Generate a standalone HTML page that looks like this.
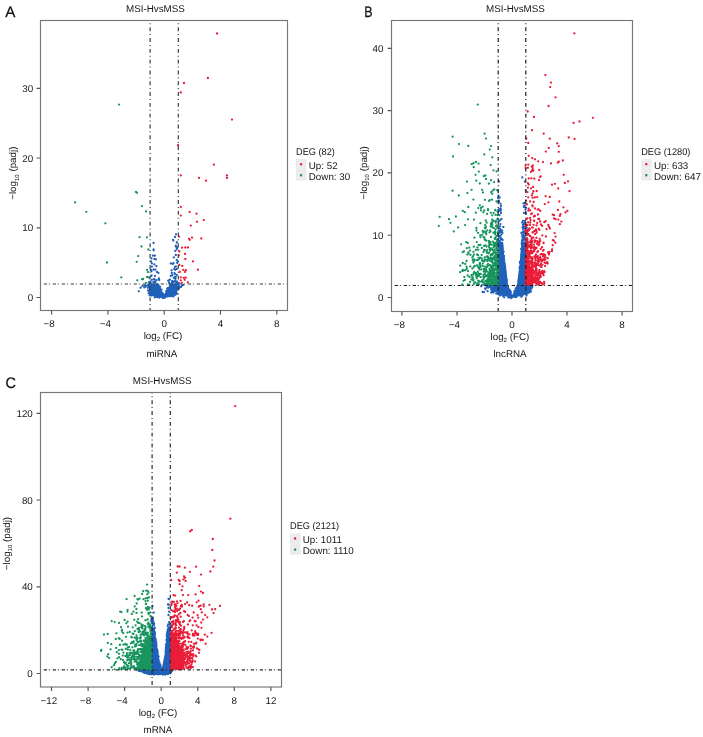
<!DOCTYPE html><html><head><meta charset="utf-8"><style>html,body{margin:0;padding:0;background:#fff;overflow:hidden}svg{display:block;will-change:transform}</style></head><body>
<svg width="703" height="737" viewBox="0 0 703 737" font-family="&quot;Liberation Sans&quot;, sans-serif" text-rendering="geometricPrecision">
<rect width="703" height="737" fill="#fff"/>
<path d="M149.0,284.0 149.0,292.0 151.0,295.2 155.0,297.0 164.0,297.4 172.0,297.0 176.0,294.8 177.8,290.0 178.2,284.0 170.0,283.5 167.5,289.0 164.2,294.8 160.9,289.0 157.5,283.5Z" fill="#2061bb"/>
<path d="M151.6 295.6h0M172.1 285.5h0M168.4 294.6h0M150.3 281.7h0M174.4 288.6h0M172.1 281.2h0M161.7 293.5h0M154.7 297.3h0M176.6 281.7h0M148.0 290.4h0M177.8 287.7h0M154.3 288.4h0M148.1 285.0h0M161.5 289.6h0M154.8 285.1h0M154.3 289.0h0M174.5 290.7h0M151.1 286.9h0M170.7 293.3h0M177.7 288.4h0M174.3 292.6h0M157.1 291.2h0M148.3 285.3h0M173.2 288.2h0M152.8 290.5h0M170.1 292.7h0M159.4 288.7h0M163.8 294.4h0M148.6 293.2h0M163.6 297.9h0M172.3 290.4h0M175.2 285.1h0M163.9 297.4h0M156.0 290.5h0M172.7 295.1h0M176.1 293.8h0M173.6 290.0h0M158.8 287.1h0M167.2 289.0h0M148.1 285.1h0M153.0 291.1h0M175.3 294.8h0M173.2 295.1h0M155.5 295.5h0M169.1 282.6h0M171.8 285.4h0M150.8 291.8h0M152.4 290.2h0M152.7 285.8h0M170.4 288.9h0M157.7 289.3h0M148.0 287.8h0M166.9 295.1h0M152.0 293.4h0M152.4 293.2h0M169.3 290.5h0M173.2 290.0h0M154.5 292.2h0M160.1 291.0h0M157.7 291.9h0M149.1 286.3h0M157.2 295.8h0M157.3 297.2h0M171.4 288.3h0M175.8 281.8h0M170.2 289.9h0M159.5 287.1h0M153.9 292.7h0M150.6 292.5h0M156.9 289.7h0M157.8 296.0h0M176.5 281.5h0M153.7 286.8h0M158.3 284.8h0M169.2 295.4h0M177.6 287.0h0M176.0 292.9h0M163.0 298.0h0M154.8 293.5h0M150.0 284.1h0M176.9 284.8h0M171.9 291.4h0M174.6 287.5h0M158.3 286.2h0M175.5 291.5h0M151.6 290.6h0M150.6 281.9h0M172.9 295.3h0M158.3 291.7h0M172.7 287.6h0M149.9 285.7h0M176.2 290.8h0M177.4 289.0h0M156.2 294.6h0M174.2 281.4h0M169.1 282.8h0M148.5 285.3h0M151.0 284.0h0M155.1 293.8h0M159.5 297.7h0M176.8 286.2h0M155.5 289.3h0M150.5 292.3h0M179.2 286.2h0M178.8 283.1h0M154.2 291.7h0M169.6 292.5h0M155.6 290.4h0M157.2 285.4h0M149.9 286.0h0M168.5 292.1h0M177.9 287.8h0M157.2 286.8h0M157.5 295.6h0M176.3 286.3h0M158.1 290.5h0M166.1 291.3h0M155.1 282.4h0M149.6 292.0h0M156.7 294.7h0M163.3 295.9h0M152.2 289.7h0M173.1 282.5h0M178.1 284.1h0M174.0 286.6h0M150.7 289.9h0M177.2 286.2h0M176.3 283.6h0M176.9 281.7h0M157.5 296.6h0M173.4 296.6h0M174.6 293.9h0M169.7 284.2h0M170.5 292.6h0M155.4 282.3h0M175.0 288.9h0M160.1 287.0h0M168.3 288.3h0M151.3 285.6h0M174.2 288.0h0M160.3 291.6h0M168.4 288.7h0M169.6 293.6h0M155.0 289.6h0M160.6 290.7h0M156.2 292.2h0M148.8 282.4h0M163.9 296.1h0M152.4 294.2h0M176.0 286.5h0M169.8 295.6h0M159.3 293.1h0M171.2 291.3h0M152.9 285.5h0M154.3 290.9h0M171.9 282.1h0M169.4 293.4h0M158.5 290.0h0M152.6 293.6h0M173.5 291.9h0M155.9 296.7h0M178.5 283.6h0M172.5 295.5h0M168.7 293.1h0M161.7 296.9h0M178.9 287.7h0M173.4 288.6h0M152.6 286.7h0M178.5 283.2h0M151.0 286.2h0M155.3 293.9h0M167.7 291.5h0M174.4 284.7h0M156.5 290.4h0M156.1 291.2h0M155.4 292.8h0M173.0 294.9h0M163.2 295.7h0M172.3 290.9h0M150.7 294.9h0M151.0 293.9h0M165.0 297.6h0M151.7 289.7h0M157.1 288.0h0M172.7 292.8h0M166.7 296.2h0M174.2 289.9h0M174.4 288.2h0M157.2 284.1h0M167.4 290.2h0M159.9 288.4h0M160.4 295.8h0M166.3 293.7h0M176.5 293.9h0M163.3 293.9h0M168.1 292.2h0M167.7 288.1h0M167.7 292.0h0M174.8 294.2h0M173.8 291.5h0M158.6 285.7h0M170.3 296.1h0M174.4 289.4h0M163.7 297.3h0M169.7 288.0h0M169.7 291.5h0M154.0 284.7h0M176.1 285.8h0M149.6 295.3h0M152.7 292.3h0M170.5 295.1h0M156.0 291.6h0M154.8 290.7h0M152.8 294.6h0M175.5 286.8h0M170.2 295.5h0M161.3 294.1h0M172.8 284.4h0M178.9 288.7h0M177.0 293.6h0M151.7 293.4h0M159.0 294.0h0M155.0 293.4h0M170.6 286.4h0M150.7 287.9h0M153.3 282.1h0M166.7 296.3h0M154.3 281.8h0M170.1 295.1h0M158.4 295.4h0M176.0 234.3h0M175.0 237.0h0M173.0 239.8h0M153.6 243.0h0M177.0 242.3h0M175.8 245.7h0M177.3 247.5h0M153.6 249.5h0M153.6 250.3h0M152.9 255.7h0M154.9 255.7h0M151.4 258.4h0M154.4 258.9h0M155.9 259.4h0M150.9 261.4h0M151.9 263.4h0M154.4 264.4h0M153.7 269.7h0M156.9 271.9h0M158.4 272.9h0M154.9 275.9h0M158.9 278.3h0M151.9 279.8h0M153.9 278.8h0M173.3 240.5h0M176.8 242.5h0M175.8 246.5h0M176.8 249.0h0M175.3 251.0h0M175.8 255.0h0M173.8 257.4h0M176.8 259.9h0M177.8 261.4h0M170.8 263.4h0M172.8 263.9h0M175.8 266.4h0M176.8 268.9h0M171.8 272.9h0M174.8 273.9h0M176.8 274.9h0M170.8 275.9h0M173.8 277.8h0M169.8 279.8h0M174.8 280.8h0M140.7 287.7h0M142.8 285.6h0M144.3 287.4h0M145.7 286.6h0M147.1 285.6h0M138.8 291.3h0M140.5 287.8h0M142.5 285.8h0M145.0 285.3h0M183.4 284.9h0M181.0 287.0h0M182.0 285.5h0M151.3 275.9h0M151.0 270.0h0M155.4 269.6h0M151.9 266.6h0M156.4 266.2h0M156.5 280.2h0M158.8 279.2h0M153.5 269.7h0M156.4 280.4h0M154.4 279.6h0M151.6 275.3h0M150.6 269.6h0M151.4 271.3h0M159.2 280.1h0M177.2 262.9h0M174.8 276.9h0M175.4 278.9h0M175.1 269.8h0M174.8 281.4h0M174.9 266.9h0M168.2 280.7h0M174.3 269.0h0M174.5 273.2h0M173.5 263.2h0M171.6 270.3h0M169.8 279.6h0M172.4 275.2h0M175.7 276.9h0" stroke="#2061bb" stroke-width="2.3" stroke-linecap="round" fill="none"/>
<path d="M119.0 104.6h0M136.0 192.0h0M137.0 192.8h0M75.1 202.4h0M86.3 211.8h0M105.4 223.3h0M139.6 237.2h0M138.2 256.1h0M136.7 261.8h0M107.0 262.5h0M121.3 277.3h0M137.3 280.3h0M142.0 206.1h0M146.1 211.4h0M146.9 237.3h0M141.5 246.5h0M148.4 249.5h0M147.1 269.9h0M147.9 272.1h0M147.1 277.0h0M148.7 277.4h0M142.0 279.3h0M143.1 279.0h0M145.9 282.8h0" stroke="#18955f" stroke-width="2.3" stroke-linecap="round" fill="none"/>
<path d="M217.1 33.5h0M207.9 78.0h0M184.0 83.0h0M180.8 92.5h0M232.0 119.6h0M178.0 145.2h0M213.9 164.7h0M180.8 175.4h0M199.0 177.9h0M206.0 180.7h0M227.0 175.4h0M227.0 177.9h0M180.8 206.9h0M189.6 211.9h0M196.5 213.7h0M180.8 215.6h0M197.0 221.8h0M190.8 225.6h0M179.0 236.6h0M189.0 238.8h0M189.8 239.8h0M192.0 237.6h0M182.0 247.7h0M185.3 247.5h0M188.0 247.5h0M179.3 251.5h0M185.1 254.0h0M178.8 255.4h0M185.3 258.9h0M192.9 261.4h0M179.3 264.9h0M182.3 265.9h0M197.9 269.7h0M179.8 271.9h0M183.3 269.9h0M185.1 271.9h0M185.8 270.2h0M180.8 277.3h0M183.8 277.8h0M185.8 277.6h0M180.8 280.3h0M184.6 279.8h0M187.8 282.3h0M181.8 282.8h0M203.8 220.1h0M201.3 238.5h0" stroke="#e91d38" stroke-width="2.3" stroke-linecap="round" fill="none"/>
<path d="M150.1 20.5V310.5M178.3 20.5V310.5" stroke="#3c3c3c" stroke-width="1.2" stroke-dasharray="3.9 2.9 1 3" stroke-dashoffset="4" fill="none"/>
<path d="M40.5 284.0H287.5" stroke="#3c3c3c" stroke-width="1.2" stroke-dasharray="3.3 1.85 1 2.85" stroke-dashoffset="5.8" fill="none"/>
<rect x="40.5" y="20.5" width="247.0" height="290.0" fill="none" stroke="#767676" stroke-width="1.15"/>
<path d="M51.6 310.5v3.9M107.9 310.5v3.9M164.2 310.5v3.9M220.5 310.5v3.9M276.8 310.5v3.9M40.5 297.5h-3.9M40.5 227.8h-3.9M40.5 158.0h-3.9M40.5 88.3h-3.9" stroke="#555" stroke-width="1.15" fill="none"/>
<g font-size="9.8" fill="#161616">
<text x="49.0" y="326.8" text-anchor="middle">−8</text>
<text x="105.3" y="326.8" text-anchor="middle">−4</text>
<text x="164.2" y="326.8" text-anchor="middle">0</text>
<text x="220.5" y="326.8" text-anchor="middle">4</text>
<text x="276.8" y="326.8" text-anchor="middle">8</text>
<text x="33.2" y="301.0" text-anchor="end">0</text>
<text x="33.2" y="231.3" text-anchor="end">10</text>
<text x="33.2" y="161.5" text-anchor="end">20</text>
<text x="33.2" y="91.8" text-anchor="end">30</text>
<text x="155.4" y="12" text-anchor="middle">MSI-HvsMSS</text>
<text x="163" y="338.6" text-anchor="middle">log<tspan font-size="6" dy="2.2">2</tspan><tspan dy="-2.2"> (FC)</tspan></text>
<text x="161.9" y="356.8" text-anchor="middle">miRNA</text>
<text transform="translate(16.3 173.2) rotate(-90)" text-anchor="middle">−log<tspan font-size="6" dy="2.2">10</tspan><tspan dy="-2.2"> (padj)</tspan></text>
</g>
<text transform="matrix(1 0 0 1 5.3 16.6)" font-size="15.2" fill="#111" stroke="#111" stroke-width="0.25">A</text>
<g font-size="9.8" fill="#161616"><text transform="matrix(0.94 0 0 1 296 154.6)">DEG (82)</text>
<rect x="296" y="159.1" width="10.5" height="21.4" fill="#ececec"/>
<rect x="299.95" y="163.0" width="2.3" height="2.3" rx="0.9" fill="#e8173c"/><rect x="299.95" y="174.1" width="2.3" height="2.3" rx="0.9" fill="#178f5e"/>
<text x="308.8" y="168.6">Up: 52</text><text x="308.8" y="179.6">Down: 30</text></g>
<path d="M488.0,285.0 492.0,290.0 498.0,293.5 505.0,296.0 512.0,297.3 519.0,296.6 526.0,294.3 530.0,290.5 532.0,286.0 526.3,285.0 526.3,242.0 521.3,242.0 520.2,257.0 519.0,268.4 517.0,284.7 512.2,295.0 508.0,284.7 506.3,268.4 504.3,257.0 503.2,242.0 498.5,242.0 498.5,285.0Z" fill="#2061bb"/>
<path d="M525.6 279.2h0M502.4 290.5h0M499.6 235.9h0M520.5 291.5h0M521.9 283.1h0M521.5 277.7h0M508.0 292.9h0M501.1 289.8h0M498.9 241.0h0M509.1 293.5h0M524.8 278.5h0M494.6 289.3h0M526.6 243.7h0M493.7 289.7h0M504.6 277.8h0M524.5 237.4h0M522.1 279.5h0M527.0 277.0h0M508.9 297.1h0M504.6 264.0h0M498.8 272.4h0M493.8 291.5h0M504.3 264.0h0M523.9 252.5h0M509.5 292.6h0M525.9 274.6h0M503.9 261.1h0M502.0 293.6h0M503.0 259.5h0M521.4 254.6h0M487.1 287.5h0M515.7 295.4h0M519.9 262.0h0M501.2 259.0h0M523.7 245.4h0M530.5 286.4h0M498.1 242.7h0M504.8 275.1h0M524.7 232.9h0M498.1 242.8h0M519.2 293.7h0M521.0 273.6h0M521.8 287.6h0M503.5 274.2h0M519.3 289.9h0M520.2 269.8h0M529.2 290.0h0M488.1 285.0h0M522.1 240.4h0M521.0 268.4h0M492.8 284.1h0M507.8 286.5h0M500.1 245.3h0M523.0 255.2h0M505.6 288.9h0M498.7 272.9h0M525.0 248.0h0M525.9 232.7h0M523.7 271.5h0M498.7 242.8h0M488.7 285.2h0M502.3 252.4h0M499.2 231.6h0M528.6 292.6h0M505.5 272.2h0M502.1 251.7h0M523.5 242.9h0M524.2 271.8h0M503.4 285.5h0M500.5 289.5h0M518.2 294.6h0M520.9 280.3h0M527.3 293.6h0M521.4 296.8h0M507.3 290.6h0M500.9 252.0h0M529.8 289.9h0M521.8 257.6h0M525.5 254.2h0M502.0 281.5h0M526.4 257.1h0M522.7 235.6h0M500.2 281.5h0M499.2 286.6h0M510.5 297.2h0M517.7 292.2h0M523.7 226.6h0M493.2 292.4h0M524.9 263.8h0M517.8 289.3h0M502.3 271.0h0M526.8 291.4h0M488.4 285.1h0M502.2 247.5h0M503.3 283.7h0M524.4 266.7h0M525.0 286.4h0M493.7 285.6h0M504.0 256.0h0M500.0 264.9h0M503.0 264.0h0M522.4 276.1h0M523.1 258.4h0M526.9 242.1h0M498.7 241.0h0M525.7 247.6h0M499.3 244.5h0M525.5 227.3h0M502.2 230.7h0M523.8 292.2h0M503.0 257.5h0M522.9 268.0h0M518.9 279.1h0M516.0 294.2h0M498.8 273.8h0M507.1 294.3h0M501.1 250.6h0M501.5 294.5h0M500.4 286.6h0M527.0 231.5h0M523.3 237.8h0M532.3 285.8h0M503.6 292.1h0M505.3 294.8h0M523.8 272.8h0M531.6 285.4h0M498.4 286.7h0M501.6 287.2h0M506.5 294.8h0M521.5 256.4h0M508.8 290.9h0M521.1 273.2h0M506.2 295.6h0M523.7 251.2h0M508.4 297.4h0M524.2 255.4h0M503.7 272.8h0M523.0 290.8h0M492.1 286.3h0M499.6 231.8h0M499.8 260.6h0M498.5 286.0h0M495.3 287.1h0M495.4 284.7h0M503.7 260.2h0M501.5 239.0h0M530.2 287.0h0M503.2 286.5h0M498.5 267.3h0M524.1 289.5h0M506.2 295.4h0M524.2 264.1h0M523.7 246.7h0M523.0 237.1h0M508.7 292.6h0M526.9 280.5h0M524.9 290.9h0M501.0 287.2h0M522.7 242.6h0M500.1 232.5h0M504.0 273.5h0M525.5 250.2h0M500.6 239.4h0M502.3 256.4h0M522.0 242.1h0M525.5 278.1h0M500.6 254.5h0M500.2 242.4h0M530.5 286.1h0M504.5 275.8h0M525.5 239.7h0M502.4 248.7h0M524.5 248.3h0M504.2 261.0h0M526.0 281.4h0M524.1 247.3h0M530.3 290.1h0M525.7 262.3h0M524.6 279.1h0M508.9 290.5h0M524.5 236.2h0M523.1 229.1h0M523.4 290.8h0M525.0 262.3h0M522.9 240.1h0M499.5 247.2h0M517.4 289.7h0M502.5 275.3h0M498.1 273.5h0M504.4 286.2h0M521.7 260.4h0M531.0 291.6h0M526.2 281.7h0M530.4 291.0h0M528.2 291.3h0M518.3 289.4h0M523.2 244.0h0M524.8 266.9h0M522.5 295.5h0M498.8 232.5h0M502.1 273.1h0M500.2 248.3h0M493.5 286.7h0M529.4 292.4h0M525.2 231.8h0M522.4 284.3h0M522.3 247.8h0M516.3 297.1h0M532.5 285.1h0M499.9 231.2h0M521.7 288.5h0M504.6 287.0h0M526.7 258.0h0M499.3 284.8h0M520.0 274.2h0M519.2 289.3h0M524.3 255.5h0M515.8 288.4h0M521.2 289.9h0M527.9 285.7h0M502.9 257.3h0M520.3 274.9h0M525.1 292.0h0M500.8 232.1h0M505.1 265.9h0M526.4 233.4h0M524.8 293.9h0M525.3 238.3h0M500.0 282.6h0M485.8 284.4h0M522.4 261.1h0M499.4 264.3h0M524.4 250.7h0M519.8 275.1h0M506.7 282.8h0M499.9 226.3h0M526.3 280.2h0M520.7 292.5h0M503.8 256.8h0M498.3 294.0h0M525.0 244.5h0M522.4 245.1h0M503.1 281.4h0M504.1 258.7h0M526.1 245.3h0M529.7 284.8h0M525.3 226.6h0M525.5 244.9h0M484.3 284.8h0M522.7 254.7h0M524.2 245.4h0M502.2 245.6h0M496.5 288.6h0M518.5 290.2h0M524.6 255.0h0M519.0 284.9h0M495.1 290.3h0M517.9 288.4h0M498.2 241.7h0M500.5 284.3h0M500.2 280.7h0M526.6 242.6h0M498.4 261.2h0M522.5 250.5h0M522.7 276.2h0M526.5 295.6h0M498.8 269.5h0M520.1 291.9h0M507.7 289.1h0M503.2 269.3h0M521.5 288.3h0M499.5 268.1h0M524.3 227.4h0M523.1 238.1h0M502.4 256.4h0M518.9 285.0h0M501.7 278.4h0M501.3 246.3h0M525.5 227.9h0M495.4 285.9h0M498.8 226.3h0M499.9 295.6h0M503.8 261.6h0M502.7 281.0h0M523.2 273.9h0M503.1 286.4h0M523.2 256.4h0M520.8 292.1h0M524.7 238.4h0M502.2 281.6h0M498.3 236.2h0M521.7 264.5h0M500.0 228.8h0M511.0 297.4h0M503.6 276.7h0M524.8 243.3h0M500.9 260.7h0M499.1 257.6h0M530.0 286.6h0M498.7 230.8h0M484.2 284.8h0M493.5 292.6h0M501.2 271.4h0M500.7 273.4h0M511.7 297.7h0M521.7 243.4h0M519.8 276.3h0M522.5 239.4h0M498.6 290.8h0M501.5 280.9h0M503.8 295.1h0M498.6 246.4h0M516.7 293.6h0M524.8 271.3h0M521.1 272.1h0M522.9 247.6h0M524.0 236.8h0M510.1 292.5h0M494.1 290.4h0M503.6 270.0h0M522.3 258.8h0M505.5 281.5h0M498.1 283.4h0M499.5 237.1h0M498.6 245.7h0M491.6 286.2h0M503.7 266.5h0M518.6 289.8h0M520.0 271.9h0M491.2 289.7h0M527.1 291.9h0M522.2 254.0h0M499.8 252.9h0M518.7 281.2h0M526.0 283.8h0M492.8 288.1h0M523.3 289.6h0M524.9 251.3h0M520.2 291.0h0M507.2 292.6h0M503.2 272.2h0M501.4 278.0h0M504.0 256.2h0M504.2 294.2h0M521.8 276.8h0M501.9 289.0h0M522.6 289.2h0M492.4 287.2h0M521.2 278.4h0M524.6 276.7h0M499.9 252.8h0M504.2 297.3h0M532.4 286.1h0M526.3 241.5h0M515.0 297.1h0M501.8 287.8h0M502.1 272.7h0M524.6 246.5h0M519.9 262.8h0M503.7 278.0h0M503.3 261.8h0M493.5 284.0h0M501.6 230.3h0M526.0 226.6h0M502.8 286.2h0M522.3 236.7h0M492.1 288.3h0M522.4 243.9h0M496.8 289.6h0M507.1 293.0h0M519.4 294.3h0M519.7 293.4h0M521.9 287.4h0M503.8 260.2h0M502.1 264.7h0M516.7 292.9h0M500.0 295.6h0M526.0 243.3h0M510.9 291.9h0M525.5 288.2h0M522.8 243.7h0M497.0 289.5h0M498.2 243.7h0M501.7 273.2h0M524.5 269.3h0M498.4 265.3h0M525.5 264.9h0M523.8 239.9h0M532.1 287.4h0M492.6 291.8h0M496.7 287.2h0M493.9 288.3h0M522.3 291.3h0M501.4 258.4h0M523.2 283.5h0M484.8 284.5h0M522.8 277.8h0M510.1 290.3h0M525.6 226.5h0M527.0 252.2h0M517.4 286.9h0M525.4 239.4h0M503.0 284.1h0M520.7 291.8h0M520.2 274.5h0M522.5 285.1h0M505.0 279.1h0M526.4 239.0h0M523.9 242.4h0M518.9 281.7h0M505.2 291.1h0M528.3 286.0h0M487.6 286.5h0M499.5 290.6h0M522.9 244.7h0M525.9 242.3h0M499.5 250.8h0M506.3 292.2h0M499.0 250.6h0M506.1 284.2h0M529.0 284.9h0M498.4 249.6h0M509.3 294.5h0M500.0 281.1h0M498.2 279.5h0M519.7 267.7h0M500.6 287.0h0M500.1 265.6h0M520.6 271.7h0M523.0 271.1h0M488.4 287.5h0M502.5 293.2h0M525.6 262.2h0M523.5 266.6h0M500.8 274.9h0M503.1 295.9h0M524.0 243.7h0M502.4 272.8h0M503.6 251.7h0M524.6 280.1h0M498.9 233.1h0M504.3 283.0h0M500.5 256.5h0M488.6 286.2h0M526.3 260.0h0M500.8 278.4h0M507.8 288.7h0M507.1 290.9h0M521.1 279.1h0M522.2 289.7h0M524.8 271.1h0M527.4 287.0h0M526.4 266.1h0M523.1 291.6h0M502.8 292.2h0M504.7 294.9h0M498.1 238.9h0M513.0 296.7h0M524.1 247.5h0M525.1 293.4h0M502.4 232.9h0M510.5 292.6h0M524.8 270.5h0M523.5 254.8h0M524.4 270.9h0M525.3 289.2h0M517.2 291.2h0M520.4 278.6h0M514.5 290.8h0M526.0 262.6h0M498.9 260.2h0M504.3 289.0h0M522.5 227.4h0M524.9 282.6h0M524.3 265.0h0M523.0 257.8h0M501.6 230.4h0M526.9 238.5h0M503.1 275.8h0M521.2 270.5h0M523.8 260.2h0M502.4 261.2h0M501.7 252.4h0M497.9 284.5h0M531.4 288.5h0M522.6 242.9h0M496.6 287.0h0M496.2 293.6h0M521.1 249.1h0M526.9 287.2h0M502.4 280.1h0M501.8 292.3h0M503.2 294.2h0M524.1 273.6h0M510.1 291.5h0M498.8 292.6h0M502.3 258.8h0M500.9 277.1h0M526.3 266.7h0M525.1 288.0h0M506.4 288.4h0M519.5 267.7h0M523.3 243.1h0M524.5 278.6h0M522.0 268.3h0M498.5 273.6h0M524.5 262.8h0M527.0 285.6h0M487.4 286.1h0M499.9 270.7h0M500.2 241.7h0M510.9 297.1h0M501.3 276.8h0M505.0 277.5h0M503.2 283.9h0M524.9 292.4h0M508.6 296.8h0M501.9 263.8h0M501.1 246.7h0M524.5 276.3h0M499.6 258.6h0M511.0 298.0h0M521.0 282.7h0M499.5 285.1h0M521.0 295.9h0M519.9 267.7h0M527.5 286.0h0M499.2 261.1h0M519.9 290.0h0M522.9 286.8h0M502.6 259.9h0M500.2 253.9h0M507.6 288.1h0M519.7 268.3h0M506.9 280.1h0M502.6 240.0h0M505.8 281.4h0M504.4 277.1h0M526.4 280.4h0M524.3 255.1h0M525.3 266.9h0M524.6 228.4h0M526.7 292.0h0M505.1 285.0h0M486.1 285.0h0M501.5 245.1h0M522.6 266.6h0M519.6 279.2h0M501.2 275.2h0M519.7 292.8h0M500.7 237.7h0M526.9 231.4h0M497.7 284.3h0M503.1 266.8h0M498.9 294.1h0M526.7 227.7h0M510.6 292.3h0M489.6 284.7h0M510.2 297.2h0M489.4 286.9h0M485.3 285.3h0M482.7 292.0h0M491.2 288.8h0M485.2 288.4h0M481.2 286.3h0M492.5 291.1h0M491.2 292.5h0M492.3 291.4h0M484.0 292.1h0M487.6 291.2h0M493.7 292.3h0M485.4 289.2h0M501.4 234.8h0M498.5 195.6h0M498.4 210.0h0M498.0 232.7h0M498.1 198.0h0M500.2 211.1h0M501.4 230.4h0M498.1 233.6h0M498.3 210.2h0M499.1 202.0h0M498.4 227.9h0M499.5 209.1h0M498.7 200.7h0M499.6 197.5h0M501.0 210.1h0M501.1 213.0h0M498.3 235.7h0M501.4 219.0h0M498.6 221.5h0M500.4 224.1h0M526.1 228.0h0M524.7 203.0h0M524.5 223.0h0M522.7 232.1h0M523.8 232.2h0M524.9 205.7h0M523.4 231.5h0M526.0 213.4h0M523.8 206.3h0M524.7 231.5h0M523.1 228.7h0M523.9 223.4h0M525.0 221.0h0M522.3 234.6h0M522.0 222.6h0M523.7 235.1h0M525.4 209.7h0M524.0 207.0h0M522.9 224.9h0M526.0 207.9h0M522.3 177.4h0M524.9 181.7h0M525.8 190.4h0M523.5 203.4h0M524.0 213.0h0M523.0 220.8h0M524.0 224.2h0M521.4 232.9h0M523.2 234.7h0M499.0 181.4h0M500.6 203.8h0M501.0 205.9h0M500.6 208.3h0M499.4 215.2h0M499.8 220.5h0M503.4 227.0h0" stroke="#2061bb" stroke-width="2.3" stroke-linecap="round" fill="none"/>
<path d="M494.1 182.1h0M490.7 165.1h0M473.7 167.2h0M492.3 193.8h0M492.7 190.6h0M478.8 171.6h0M491.2 192.2h0M494.3 189.5h0M476.3 180.7h0M482.1 189.8h0M492.0 199.7h0M497.6 190.4h0M483.8 176.2h0M496.5 171.4h0M467.4 193.1h0M491.0 180.2h0M485.3 175.5h0M493.4 170.3h0M467.0 181.6h0M475.6 174.8h0M486.1 179.0h0M482.9 192.5h0M484.9 199.8h0M473.4 199.6h0M488.9 183.7h0M471.6 189.8h0M479.8 183.5h0M497.2 190.2h0M482.7 206.7h0M497.4 219.0h0M495.4 210.0h0M490.9 212.8h0M464.8 212.2h0M468.3 207.0h0M487.1 213.9h0M474.0 219.6h0M489.7 200.1h0M498.1 219.8h0M480.9 210.4h0M495.1 210.3h0M468.0 219.3h0M481.0 208.0h0M488.1 210.2h0M478.3 208.1h0M492.3 215.3h0M492.1 219.6h0M484.2 210.4h0M493.7 213.1h0M487.9 209.1h0M497.5 211.6h0M496.5 201.5h0M475.9 212.7h0M495.5 214.8h0M462.8 210.9h0M497.6 215.2h0M483.3 212.3h0M489.1 201.0h0M479.8 205.4h0M490.4 231.4h0M483.2 232.5h0M486.7 222.7h0M495.8 222.5h0M497.4 227.9h0M495.1 234.0h0M480.4 223.2h0M495.1 238.9h0M490.9 223.9h0M476.4 228.0h0M491.9 225.3h0M484.9 227.9h0M495.5 229.3h0M483.6 236.9h0M497.6 226.9h0M480.2 235.3h0M474.5 237.7h0M484.6 239.1h0M484.3 237.4h0M495.9 226.2h0M496.5 225.5h0M492.5 227.4h0M485.3 228.3h0M489.5 232.4h0M485.0 239.9h0M498.1 233.8h0M493.7 227.9h0M495.2 231.5h0M493.7 221.0h0M497.8 227.7h0M480.5 237.2h0M494.6 238.5h0M486.3 234.3h0M476.5 230.5h0M491.0 237.0h0M495.5 232.7h0M495.9 220.9h0M486.0 226.9h0M495.6 237.3h0M498.1 232.2h0M478.1 232.9h0M492.5 220.6h0M496.5 235.6h0M491.5 222.6h0M485.9 232.0h0M497.5 240.0h0M465.1 225.1h0M482.6 230.8h0M495.6 238.9h0M484.6 231.7h0M490.7 226.4h0M482.1 234.8h0M494.6 238.5h0M485.2 225.1h0M490.1 230.4h0M492.3 224.6h0M494.9 233.9h0M485.7 220.5h0M493.5 232.7h0M485.9 233.4h0M487.3 230.3h0M492.2 222.7h0M467.7 243.1h0M477.2 254.3h0M495.2 252.1h0M497.0 244.9h0M484.0 249.9h0M493.9 251.2h0M462.7 252.2h0M494.0 243.2h0M486.8 256.5h0M497.2 255.8h0M491.6 244.7h0M497.2 254.7h0M495.4 246.3h0M481.8 247.9h0M473.4 251.8h0M487.7 252.8h0M486.8 252.7h0M494.6 249.3h0M498.4 255.5h0M469.3 247.7h0M486.6 251.1h0M476.7 242.1h0M490.6 242.2h0M489.0 240.9h0M468.6 253.4h0M493.0 241.7h0M496.9 241.1h0M489.0 252.8h0M487.4 249.8h0M489.9 243.8h0M494.6 256.1h0M494.8 252.5h0M473.8 246.7h0M490.0 250.8h0M498.1 252.5h0M464.0 251.4h0M497.9 252.7h0M491.0 254.4h0M496.5 246.0h0M492.1 249.3h0M489.5 245.1h0M486.6 246.5h0M489.1 242.3h0M491.6 248.4h0M490.2 248.3h0M492.0 255.1h0M468.3 252.4h0M493.8 247.2h0M496.4 242.6h0M493.3 253.2h0M481.7 254.9h0M493.6 245.1h0M496.1 256.9h0M496.7 248.3h0M494.5 244.4h0M478.9 245.2h0M496.1 249.8h0M484.0 245.9h0M484.7 249.9h0M490.7 255.6h0M472.9 256.3h0M494.0 245.5h0M461.1 244.3h0M475.9 250.0h0M497.1 241.1h0M474.0 254.6h0M490.0 249.6h0M467.2 254.6h0M497.2 248.4h0M487.8 256.7h0M493.0 254.1h0M480.4 244.9h0M478.2 249.8h0M489.2 247.4h0M495.0 252.9h0M491.0 254.6h0M496.5 243.8h0M485.6 245.3h0M470.1 250.6h0M494.4 256.4h0M496.8 252.9h0M497.3 250.5h0M478.7 244.9h0M496.6 255.7h0M489.3 243.5h0M488.9 245.6h0M485.9 240.4h0M488.4 253.3h0M483.5 252.0h0M486.5 240.7h0M496.5 247.1h0M478.1 255.1h0M495.7 254.9h0M477.4 247.5h0M470.4 254.9h0M494.8 245.2h0M492.6 253.6h0M497.9 250.2h0M492.5 250.1h0M493.1 253.7h0M466.2 242.1h0M466.8 248.2h0M477.4 255.1h0M495.5 243.0h0M492.6 265.7h0M480.4 266.9h0M498.1 266.5h0M497.8 260.8h0M487.5 257.3h0M495.3 268.5h0M497.0 269.8h0M491.4 266.8h0M474.6 266.0h0M484.7 257.5h0M486.0 269.8h0M492.8 265.7h0M495.6 263.4h0M493.5 266.1h0M496.4 261.7h0M483.7 269.0h0M497.7 267.8h0M478.2 259.8h0M491.9 258.4h0M497.0 264.3h0M491.0 265.7h0M492.9 267.5h0M472.7 260.1h0M492.6 265.6h0M488.3 258.9h0M496.6 269.0h0M479.4 264.5h0M498.0 264.2h0M490.4 261.2h0M474.7 259.9h0M495.1 263.0h0M478.6 257.9h0M472.4 268.5h0M493.2 269.0h0M495.4 262.2h0M491.9 262.1h0M497.2 265.8h0M495.5 260.5h0M470.3 266.4h0M478.2 267.0h0M497.6 261.9h0M490.7 258.6h0M466.9 268.7h0M488.1 259.3h0M473.3 262.5h0M498.1 266.4h0M473.9 266.8h0M492.2 261.1h0M481.3 269.3h0M489.7 270.0h0M494.5 257.9h0M498.5 269.9h0M498.4 268.9h0M487.4 265.0h0M494.0 269.8h0M495.9 263.8h0M498.3 268.2h0M496.6 269.8h0M493.4 264.7h0M483.2 260.7h0M480.1 264.1h0M497.6 267.0h0M487.3 261.1h0M495.7 264.6h0M492.1 260.5h0M493.2 263.6h0M480.3 265.6h0M493.3 257.7h0M494.8 264.5h0M488.0 265.8h0M492.0 258.9h0M489.9 265.1h0M495.8 266.1h0M482.9 263.6h0M479.0 259.1h0M497.7 264.8h0M486.7 267.2h0M497.4 261.5h0M497.9 263.7h0M488.1 257.2h0M496.4 257.4h0M496.7 259.4h0M485.0 259.7h0M460.2 265.7h0M479.8 269.6h0M486.5 267.1h0M498.2 267.3h0M465.2 263.9h0M491.1 258.0h0M495.8 264.0h0M492.2 261.3h0M484.1 269.0h0M472.3 257.6h0M492.3 262.3h0M494.1 259.3h0M473.8 259.4h0M462.7 263.3h0M479.9 263.0h0M480.2 257.7h0M482.0 260.5h0M491.5 266.6h0M492.2 269.2h0M462.9 262.8h0M482.4 261.1h0M492.9 268.6h0M477.0 260.2h0M492.0 268.2h0M497.6 264.1h0M488.1 263.8h0M466.6 261.0h0M498.2 258.4h0M485.3 259.6h0M484.9 266.6h0M488.2 259.3h0M466.5 266.7h0M485.8 269.0h0M492.7 262.5h0M489.5 268.6h0M484.5 261.4h0M488.2 260.3h0M482.7 265.9h0M489.6 258.4h0M495.6 268.1h0M495.7 260.3h0M491.8 260.4h0M479.0 268.5h0M473.9 261.7h0M476.8 265.4h0M487.4 259.9h0M498.5 267.4h0M493.5 264.8h0M484.5 269.9h0M489.6 259.1h0M494.6 259.7h0M497.2 265.9h0M481.8 258.5h0M479.9 264.2h0M495.7 269.5h0M491.0 267.1h0M495.4 261.4h0M497.5 281.0h0M497.6 280.4h0M477.8 271.7h0M490.4 274.5h0M491.2 276.0h0M492.9 277.5h0M498.1 272.7h0M489.6 271.7h0M489.0 280.7h0M471.5 275.0h0M485.9 275.7h0M489.4 284.7h0M491.5 270.7h0M480.7 277.2h0M496.8 283.9h0M482.4 284.7h0M488.6 284.7h0M492.7 273.0h0M491.4 279.7h0M492.3 278.3h0M497.5 281.2h0M473.3 279.6h0M495.0 276.5h0M490.6 280.4h0M491.0 281.9h0M498.4 282.0h0M495.4 273.3h0M490.0 284.3h0M487.1 271.4h0M488.3 281.7h0M497.6 283.7h0M473.3 274.6h0M494.8 282.5h0M474.9 282.4h0M492.2 275.6h0M475.2 282.3h0M491.4 281.2h0M493.0 283.2h0M493.3 279.9h0M488.3 277.2h0M491.5 282.4h0M494.5 276.9h0M488.6 283.6h0M480.7 274.0h0M497.9 271.5h0M477.4 274.7h0M476.1 273.2h0M498.2 271.1h0M478.1 283.2h0M483.5 275.0h0M490.6 276.0h0M497.7 278.8h0M496.1 281.8h0M498.4 273.0h0M496.3 280.2h0M490.3 276.5h0M490.6 273.6h0M491.5 284.9h0M494.3 281.2h0M496.0 282.1h0M492.3 282.5h0M479.6 281.5h0M489.8 270.1h0M484.7 273.7h0M492.8 276.5h0M496.5 278.5h0M487.4 280.1h0M476.7 278.3h0M495.0 276.7h0M483.8 282.3h0M492.6 273.2h0M476.6 277.5h0M472.2 276.9h0M492.6 283.8h0M469.4 284.9h0M496.1 276.1h0M494.2 273.2h0M474.2 271.9h0M497.3 271.4h0M494.9 275.9h0M472.8 277.6h0M495.6 284.6h0M498.1 276.8h0M483.7 271.4h0M493.7 282.9h0M485.2 271.4h0M473.6 284.3h0M492.2 279.9h0M487.7 275.0h0M489.4 275.0h0M498.5 277.4h0M485.5 271.9h0M494.5 272.3h0M479.0 284.4h0M470.1 281.9h0M491.3 272.7h0M497.0 274.5h0M488.0 283.7h0M462.4 271.1h0M496.9 274.9h0M491.3 272.8h0M494.8 277.9h0M465.6 270.1h0M481.6 281.7h0M488.3 280.5h0M490.3 270.2h0M483.9 277.8h0M464.3 276.9h0M490.6 271.5h0M494.5 277.1h0M493.6 277.3h0M491.2 279.8h0M497.6 277.3h0M491.9 270.4h0M489.5 284.6h0M471.4 279.5h0M497.0 270.4h0M487.0 282.1h0M482.2 281.5h0M484.6 283.3h0M492.3 275.1h0M488.7 273.0h0M496.9 273.2h0M468.0 271.2h0M490.2 271.1h0M497.3 279.9h0M492.6 272.1h0M492.4 272.6h0M489.6 276.6h0M494.4 281.0h0M485.6 281.0h0M492.8 276.8h0M460.1 272.2h0M490.1 279.5h0M488.4 273.9h0M497.2 282.2h0M491.9 271.3h0M482.8 281.7h0M494.1 283.7h0M495.9 279.4h0M494.6 273.1h0M491.4 279.1h0M487.1 280.1h0M496.8 279.0h0M491.9 275.0h0M494.3 271.4h0M495.5 284.5h0M493.4 275.7h0M477.0 284.0h0M488.4 284.8h0M490.4 278.0h0M485.8 270.6h0M491.0 272.7h0M476.9 277.5h0M476.4 275.9h0M495.2 279.9h0M496.7 281.7h0M497.6 284.1h0M479.0 275.7h0M497.7 283.4h0M498.0 282.3h0M486.7 276.2h0M491.5 281.6h0M463.5 280.8h0M495.7 283.2h0M484.4 274.1h0M497.1 280.8h0M462.4 284.5h0M494.2 275.2h0M496.6 282.8h0M488.8 283.5h0M476.0 274.8h0M488.8 276.7h0M489.8 278.1h0M496.3 275.8h0M486.5 284.2h0M467.7 275.5h0M489.0 279.9h0M475.6 273.2h0M490.5 272.4h0M475.9 275.1h0M486.7 284.0h0M494.1 275.2h0M491.2 283.3h0M497.2 275.5h0M484.3 271.4h0M493.1 271.4h0M495.5 278.1h0M488.8 281.0h0M486.9 283.1h0M489.8 275.3h0M492.9 277.5h0M474.3 283.2h0M489.5 280.7h0M469.5 276.9h0M462.2 284.9h0M490.6 274.7h0M473.2 280.6h0M493.7 284.1h0M484.3 276.5h0M463.9 270.4h0M464.9 279.9h0M492.6 273.5h0M487.1 275.2h0M485.0 276.7h0M488.4 279.2h0M495.4 276.7h0M497.4 284.5h0M495.8 284.4h0M484.3 270.4h0M498.0 284.4h0M486.2 276.1h0M467.9 284.5h0M498.2 281.4h0M477.3 276.2h0M478.8 273.9h0M478.8 273.7h0M495.4 279.8h0M473.8 272.9h0M483.4 279.4h0M477.6 275.4h0M478.2 280.7h0M493.1 280.7h0M493.2 283.2h0M482.3 280.5h0M483.4 277.0h0M487.4 279.1h0M489.9 281.5h0M462.6 270.0h0M477.8 104.6h0M452.6 136.7h0M484.6 133.7h0M486.0 138.6h0M458.9 144.1h0M468.3 145.9h0M491.1 146.1h0M489.8 149.6h0M453.0 156.5h0M484.3 154.4h0M492.3 157.3h0M471.7 164.2h0M473.6 163.2h0M476.0 162.0h0M478.5 163.6h0M439.7 216.8h0M438.8 226.1h0M449.0 219.2h0M450.4 222.8h0M453.8 231.4h0M455.9 216.5h0M458.1 227.4h0M452.6 190.7h0M458.8 195.5h0" stroke="#18955f" stroke-width="2.3" stroke-linecap="round" fill="none"/>
<path d="M525.6 167.9h0M536.7 191.0h0M558.2 188.5h0M532.7 193.3h0M533.1 186.9h0M531.4 178.3h0M527.9 187.6h0M545.6 196.1h0M528.7 184.5h0M527.9 167.8h0M528.7 178.5h0M531.0 188.3h0M532.1 170.5h0M525.6 165.4h0M532.8 169.1h0M537.2 197.1h0M532.4 167.3h0M549.8 197.0h0M534.9 197.4h0M532.8 165.5h0M531.7 166.6h0M531.8 195.4h0M564.8 183.0h0M552.0 184.7h0M539.2 169.9h0M533.4 170.6h0M528.2 197.3h0M532.6 197.8h0M539.0 180.2h0M540.7 176.3h0M527.5 192.1h0M527.9 183.2h0M531.0 171.9h0M554.9 183.8h0M540.0 177.1h0M563.7 174.8h0M533.4 191.2h0M534.3 178.7h0M558.3 219.6h0M526.4 219.4h0M532.7 206.4h0M527.4 218.3h0M539.2 219.0h0M534.5 215.7h0M548.5 202.3h0M530.1 201.4h0M554.0 218.3h0M526.0 200.4h0M555.5 219.2h0M563.5 207.3h0M532.4 205.4h0M560.4 214.2h0M537.8 209.7h0M535.0 216.1h0M565.5 212.4h0M544.8 204.1h0M528.3 210.6h0M552.7 214.6h0M538.7 209.4h0M531.1 214.1h0M530.1 210.4h0M540.3 210.9h0M530.1 217.9h0M526.9 204.4h0M533.9 216.6h0M528.7 208.6h0M559.3 201.5h0M535.1 208.5h0M538.3 219.0h0M554.0 215.2h0M532.0 213.3h0M538.0 214.5h0M533.7 202.0h0M542.3 235.3h0M526.4 234.2h0M554.6 233.1h0M529.8 229.0h0M530.0 235.9h0M540.1 221.5h0M532.1 227.3h0M555.6 236.6h0M532.2 237.8h0M528.1 222.4h0M526.4 238.8h0M544.3 222.2h0M527.9 229.9h0M540.9 224.3h0M528.9 230.3h0M525.8 225.1h0M535.9 229.5h0M527.2 231.8h0M535.1 234.1h0M526.8 230.9h0M536.4 230.9h0M531.7 238.4h0M533.6 224.8h0M533.5 237.6h0M527.2 238.3h0M529.9 224.9h0M536.6 225.4h0M529.3 228.5h0M536.4 237.9h0M532.7 227.7h0M539.7 239.0h0M526.1 233.1h0M536.1 230.7h0M549.9 228.5h0M532.6 232.5h0M534.0 220.7h0M546.5 229.2h0M545.9 236.5h0M527.7 233.9h0M541.4 225.1h0M536.6 232.7h0M528.6 234.1h0M530.5 220.1h0M542.2 225.8h0M530.3 222.5h0M527.4 231.4h0M526.2 224.8h0M526.9 225.1h0M531.5 237.5h0M548.9 226.6h0M526.4 238.9h0M533.1 232.0h0M539.4 229.8h0M559.9 224.2h0M534.6 231.0h0M527.4 239.8h0M527.9 235.0h0M527.4 230.1h0M527.4 225.2h0M526.2 233.9h0M548.3 225.0h0M525.6 230.1h0M537.3 222.9h0M534.3 221.1h0M525.8 232.0h0M525.6 239.7h0M525.5 226.7h0M545.6 221.2h0M538.7 228.7h0M531.6 239.9h0M537.8 242.3h0M528.1 256.6h0M525.8 247.2h0M543.3 255.0h0M530.4 247.5h0M536.9 243.8h0M531.8 247.7h0M537.6 242.3h0M534.5 249.5h0M527.4 250.7h0M526.6 256.3h0M528.1 250.8h0M549.2 253.1h0M528.4 253.9h0M529.4 255.3h0M543.1 256.4h0M531.5 244.2h0M544.0 256.2h0M525.9 250.8h0M534.9 242.1h0M541.6 253.8h0M531.9 246.1h0M535.9 256.9h0M525.9 256.8h0M534.6 246.8h0M543.5 243.2h0M530.4 253.7h0M527.9 244.1h0M534.5 256.4h0M530.8 245.0h0M549.5 251.8h0M531.3 250.9h0M535.5 248.8h0M530.0 245.2h0M526.1 243.4h0M525.5 256.7h0M539.3 244.2h0M552.7 245.2h0M540.7 248.9h0M531.5 242.7h0M536.6 247.9h0M527.5 249.0h0M527.2 245.5h0M526.2 251.9h0M526.0 242.8h0M531.2 245.1h0M527.1 256.5h0M534.3 247.8h0M526.6 246.2h0M539.4 242.2h0M528.9 251.6h0M530.5 251.0h0M542.0 247.2h0M528.5 246.4h0M535.2 248.8h0M527.7 253.4h0M540.2 241.1h0M530.7 252.2h0M530.7 240.6h0M537.4 252.0h0M552.8 240.1h0M533.8 250.4h0M534.5 240.5h0M527.0 251.8h0M552.1 249.4h0M531.0 248.6h0M555.3 242.7h0M548.0 252.6h0M529.5 245.6h0M535.8 254.6h0M548.0 252.5h0M543.9 254.5h0M542.9 250.8h0M534.0 244.6h0M543.6 242.7h0M527.7 247.2h0M545.1 255.2h0M532.1 242.7h0M530.0 242.4h0M532.2 241.3h0M527.9 241.9h0M526.1 249.5h0M534.9 249.1h0M552.0 251.2h0M530.0 256.6h0M537.5 241.1h0M530.6 242.0h0M535.5 240.9h0M527.4 251.3h0M533.4 247.6h0M538.1 251.1h0M535.3 247.9h0M529.4 254.6h0M530.0 252.5h0M530.3 246.9h0M526.8 244.9h0M537.9 256.1h0M532.9 252.0h0M529.2 254.4h0M526.0 244.2h0M534.3 251.1h0M536.1 254.6h0M543.6 249.8h0M526.8 252.6h0M540.5 254.6h0M543.8 254.1h0M538.5 245.4h0M553.8 240.7h0M528.2 254.6h0M530.8 245.2h0M535.2 256.9h0M533.1 251.7h0M532.4 247.6h0M549.0 254.6h0M531.0 246.3h0M542.9 255.1h0M532.4 253.2h0M527.9 262.2h0M531.8 257.2h0M545.3 259.6h0M529.4 262.6h0M535.8 269.5h0M526.7 261.6h0M545.5 257.4h0M532.2 261.3h0M525.7 267.7h0M535.6 267.3h0M531.4 267.9h0M538.7 261.8h0M527.9 268.8h0M532.6 258.5h0M534.4 266.6h0M526.2 265.3h0M535.1 257.7h0M532.6 269.0h0M533.3 266.6h0M526.3 269.9h0M532.2 270.0h0M529.6 262.1h0M535.7 263.0h0M544.1 260.2h0M526.0 258.8h0M525.8 266.8h0M529.7 269.6h0M528.2 268.5h0M528.8 258.1h0M529.9 262.7h0M532.9 265.9h0M528.0 260.7h0M528.3 266.8h0M544.3 258.8h0M530.2 267.8h0M525.8 266.7h0M529.6 261.0h0M528.3 269.6h0M535.0 257.7h0M525.6 265.2h0M544.5 262.6h0M534.8 266.6h0M528.4 264.6h0M528.7 266.7h0M541.8 261.4h0M532.1 260.6h0M530.3 261.4h0M530.7 269.7h0M526.5 264.2h0M537.7 261.1h0M535.4 265.2h0M532.4 264.1h0M533.3 262.6h0M536.3 268.3h0M539.8 260.5h0M528.4 267.5h0M547.7 258.2h0M527.1 265.0h0M546.6 263.0h0M542.1 259.4h0M540.1 259.1h0M537.8 258.2h0M536.5 263.9h0M536.9 264.6h0M533.3 266.4h0M541.1 266.9h0M539.4 270.0h0M528.7 263.1h0M528.0 263.7h0M525.9 260.8h0M526.3 266.6h0M542.3 260.3h0M541.5 267.2h0M535.0 263.2h0M527.1 269.9h0M536.6 268.9h0M528.7 260.5h0M532.5 266.9h0M535.9 266.5h0M531.0 258.6h0M538.6 258.0h0M539.0 258.4h0M541.1 264.5h0M540.0 258.6h0M526.4 260.7h0M530.1 269.5h0M532.7 266.7h0M526.6 264.7h0M545.1 266.0h0M527.1 268.8h0M537.8 260.9h0M540.3 257.2h0M526.2 260.0h0M525.6 261.0h0M526.2 257.0h0M540.9 263.6h0M526.6 268.5h0M531.4 266.8h0M539.9 265.7h0M528.2 263.1h0M528.4 266.7h0M526.5 267.2h0M527.0 269.6h0M545.6 262.8h0M532.1 265.4h0M527.2 263.2h0M532.6 269.4h0M527.5 259.5h0M528.7 269.8h0M538.4 261.4h0M528.9 265.4h0M531.3 263.7h0M526.5 257.6h0M528.1 258.7h0M542.4 264.8h0M530.3 262.0h0M528.2 266.8h0M528.2 270.0h0M532.4 259.4h0M526.2 267.9h0M535.6 260.0h0M529.3 267.0h0M538.3 260.8h0M537.5 265.1h0M530.1 267.6h0M547.3 262.1h0M538.1 263.1h0M538.9 265.3h0M526.2 267.5h0M526.8 266.3h0M531.2 262.8h0M535.5 262.4h0M534.7 265.0h0M527.4 269.6h0M537.8 258.8h0M529.4 265.0h0M532.5 269.7h0M535.3 259.9h0M547.7 263.5h0M537.1 257.7h0M529.5 261.4h0M532.9 265.3h0M526.2 266.2h0M528.1 278.6h0M531.2 274.2h0M526.2 275.2h0M536.6 284.5h0M525.7 280.9h0M532.6 282.9h0M532.9 278.7h0M531.0 279.3h0M530.1 281.0h0M526.9 283.5h0M526.7 278.1h0M525.6 283.9h0M533.0 276.9h0M538.5 274.8h0M528.0 273.3h0M535.2 271.8h0M529.5 278.5h0M532.1 271.1h0M538.4 284.4h0M525.8 274.9h0M541.7 283.1h0M527.7 276.1h0M529.8 271.1h0M530.9 276.8h0M525.7 270.8h0M531.8 274.1h0M527.2 280.9h0M544.3 283.7h0M536.0 280.8h0M528.5 284.5h0M535.2 281.4h0M530.8 278.2h0M529.1 280.4h0M537.0 279.6h0M530.4 277.9h0M529.8 276.2h0M531.9 280.0h0M539.9 283.3h0M531.6 284.7h0M527.0 275.5h0M529.8 281.1h0M530.4 273.8h0M544.3 271.2h0M540.3 275.2h0M527.8 282.5h0M534.5 280.4h0M536.2 279.5h0M526.8 282.8h0M538.6 275.6h0M531.7 277.5h0M535.1 282.5h0M526.0 270.5h0M534.6 272.9h0M529.7 274.0h0M542.5 284.4h0M526.3 281.2h0M544.3 272.3h0M528.3 279.3h0M527.1 270.1h0M526.4 272.8h0M531.8 275.1h0M532.4 273.9h0M534.7 271.3h0M531.6 282.5h0M533.5 278.5h0M528.2 280.3h0M527.4 281.1h0M530.9 282.9h0M544.1 282.0h0M526.8 270.3h0M532.7 275.3h0M525.6 277.0h0M531.9 278.1h0M525.7 276.2h0M535.4 275.2h0M526.8 276.1h0M528.2 283.5h0M525.7 274.3h0M526.7 277.9h0M537.5 275.3h0M527.3 277.1h0M528.3 284.7h0M529.0 283.7h0M542.8 273.2h0M537.2 278.0h0M525.8 277.1h0M526.3 271.3h0M540.8 276.9h0M526.0 278.9h0M543.7 275.3h0M539.2 278.0h0M526.7 278.3h0M526.2 284.5h0M531.2 273.6h0M527.7 276.4h0M534.8 277.9h0M530.2 279.9h0M528.5 279.1h0M536.5 272.7h0M531.4 280.9h0M534.2 272.4h0M527.7 278.2h0M528.2 282.9h0M536.1 281.1h0M536.6 282.1h0M532.9 270.0h0M533.4 272.3h0M526.8 279.2h0M528.7 281.3h0M534.4 273.4h0M526.2 276.0h0M544.6 272.1h0M526.4 270.5h0M540.1 282.0h0M531.9 278.2h0M540.7 272.2h0M534.0 272.9h0M529.9 284.8h0M532.2 275.2h0M526.1 274.1h0M530.9 283.6h0M525.8 272.5h0M529.2 272.6h0M532.6 280.9h0M528.6 270.8h0M528.0 278.3h0M536.0 277.4h0M535.3 276.7h0M537.0 279.5h0M530.9 275.1h0M535.5 270.6h0M527.5 272.7h0M528.0 275.1h0M527.2 283.6h0M528.7 273.7h0M533.3 280.2h0M538.8 273.0h0M539.1 278.8h0M531.6 274.1h0M534.0 278.4h0M534.7 277.7h0M526.2 282.5h0M535.3 272.5h0M536.2 272.1h0M529.9 279.2h0M531.5 281.1h0M531.1 273.1h0M527.7 276.5h0M527.4 271.8h0M530.4 280.2h0M531.0 270.1h0M528.3 279.5h0M533.2 274.1h0M531.2 280.6h0M536.7 270.9h0M530.9 280.5h0M526.6 283.7h0M537.3 273.9h0M527.6 270.1h0M540.3 276.2h0M531.3 271.0h0M537.0 275.0h0M536.9 284.5h0M532.6 279.7h0M527.8 282.1h0M528.8 274.9h0M542.1 272.5h0M536.6 283.7h0M526.7 275.5h0M534.1 279.2h0M534.5 273.3h0M533.8 282.0h0M527.8 277.1h0M530.7 274.8h0M533.8 279.0h0M528.2 280.7h0M527.3 274.3h0M528.4 282.2h0M531.3 280.7h0M528.8 284.6h0M526.2 280.2h0M526.8 275.6h0M538.4 280.4h0M530.0 275.2h0M539.3 282.4h0M526.3 282.0h0M527.0 278.4h0M538.8 282.8h0M526.8 272.0h0M526.8 283.9h0M543.0 274.3h0M534.0 281.7h0M528.0 281.9h0M525.9 274.9h0M531.1 280.4h0M537.9 275.8h0M536.0 281.8h0M530.8 281.5h0M526.7 283.8h0M528.0 274.8h0M542.3 271.0h0M533.3 273.7h0M526.7 278.7h0M531.2 272.3h0M538.8 282.6h0M525.9 271.8h0M531.3 274.6h0M534.9 272.4h0M529.2 270.5h0M525.9 280.4h0M529.0 283.3h0M540.9 273.5h0M525.9 281.5h0M529.1 275.7h0M530.2 284.8h0M532.4 276.3h0M531.0 272.3h0M539.1 271.1h0M537.9 273.3h0M538.4 282.3h0M526.1 276.3h0M574.4 33.4h0M545.4 75.1h0M551.0 82.6h0M550.2 87.1h0M555.5 97.3h0M548.6 106.0h0M527.7 111.5h0M534.0 117.0h0M592.9 117.8h0M573.6 122.9h0M579.5 121.5h0M532.0 130.2h0M543.7 133.7h0M526.3 138.7h0M549.8 138.7h0M568.7 137.5h0M574.6 138.9h0M528.3 143.0h0M557.2 143.4h0M558.8 146.1h0M548.8 147.9h0M545.8 151.6h0M558.8 151.8h0M528.7 155.8h0M532.3 158.1h0M535.0 159.3h0M538.2 161.3h0M542.9 162.1h0M551.0 163.4h0M557.8 162.5h0M558.8 161.7h0M562.8 160.5h0M528.3 164.6h0M568.0 181.4h0M569.5 191.2h0M567.4 210.9h0M561.3 221.6h0M559.8 215.9h0M557.9 210.0h0" stroke="#e91d38" stroke-width="2.3" stroke-linecap="round" fill="none"/>
<path d="M498.2 20.5V311.5M525.8 20.5V311.5" stroke="#1c1c1c" stroke-width="1.2" stroke-dasharray="3.9 2.9 1 3" stroke-dashoffset="4" fill="none"/>
<path d="M391.5 285.5H632.5" stroke="#1c1c1c" stroke-width="1.2" stroke-dasharray="3.3 1.85 1 2.85" stroke-dashoffset="5.8" fill="none"/>
<rect x="391.5" y="20.5" width="241.0" height="291.0" fill="none" stroke="#767676" stroke-width="1.15"/>
<path d="M401.9 311.5v3.9M457.0 311.5v3.9M512.0 311.5v3.9M567.0 311.5v3.9M622.1 311.5v3.9M391.5 297.5h-3.9M391.5 235.2h-3.9M391.5 172.9h-3.9M391.5 110.6h-3.9M391.5 48.3h-3.9" stroke="#555" stroke-width="1.15" fill="none"/>
<g font-size="9.8" fill="#161616">
<text x="399.3" y="327.8" text-anchor="middle">−8</text>
<text x="454.4" y="327.8" text-anchor="middle">−4</text>
<text x="512.0" y="327.8" text-anchor="middle">0</text>
<text x="567.0" y="327.8" text-anchor="middle">4</text>
<text x="622.1" y="327.8" text-anchor="middle">8</text>
<text x="383.4" y="301.0" text-anchor="end">0</text>
<text x="383.4" y="238.7" text-anchor="end">10</text>
<text x="383.4" y="176.4" text-anchor="end">20</text>
<text x="383.4" y="114.1" text-anchor="end">30</text>
<text x="383.4" y="51.8" text-anchor="end">40</text>
<text x="515.4" y="12" text-anchor="middle">MSI-HvsMSS</text>
<text x="509.9" y="339.9" text-anchor="middle">log<tspan font-size="6" dy="2.2">2</tspan><tspan dy="-2.2"> (FC)</tspan></text>
<text x="510" y="356.6" text-anchor="middle">lncRNA</text>
<text transform="translate(367.2 172.9) rotate(-90)" text-anchor="middle">−log<tspan font-size="6" dy="2.2">10</tspan><tspan dy="-2.2"> (padj)</tspan></text>
</g>
<text transform="matrix(0.82 0 0 1 364.3 16.6)" font-size="15.2" fill="#111" stroke="#111" stroke-width="0.25">B</text>
<g font-size="9.8" fill="#161616"><text transform="matrix(0.94 0 0 1 641.2 154.6)">DEG (1280)</text>
<rect x="641.2" y="159.1" width="10.5" height="21.4" fill="#ececec"/>
<rect x="645.1500000000001" y="163.0" width="2.3" height="2.3" rx="0.9" fill="#e8173c"/><rect x="645.1500000000001" y="174.1" width="2.3" height="2.3" rx="0.9" fill="#178f5e"/>
<text x="654.0" y="168.6">Up: 633</text><text x="654.0" y="179.6">Down: 647</text></g>
<path d="M136.5,669.8 140.0,672.0 148.4,674.6 158.0,675.2 167.8,674.6 171.5,673.0 174.0,669.8 170.4,669.6 170.4,628.0 167.4,628.0 164.9,652.7 161.5,670.0 158.1,652.7 154.6,628.0 151.7,628.0 151.7,669.6Z" fill="#2061bb"/>
<path d="M168.6 645.2h0M160.8 667.5h0M156.4 660.3h0M165.6 651.7h0M169.8 644.9h0M164.0 668.1h0M163.9 670.5h0M151.4 663.7h0M153.3 671.3h0M170.3 623.6h0M155.8 640.0h0M158.8 669.5h0M162.6 670.9h0M169.6 673.0h0M168.4 650.7h0M152.0 626.6h0M148.2 672.6h0M171.0 639.5h0M154.0 647.6h0M157.8 653.3h0M152.8 659.1h0M152.2 651.1h0M162.4 672.9h0M158.2 659.9h0M167.3 631.6h0M168.5 643.0h0M169.4 627.6h0M170.5 643.7h0M167.5 665.8h0M167.5 654.6h0M167.4 637.7h0M167.0 633.5h0M152.4 641.3h0M152.9 672.2h0M165.1 665.7h0M172.0 669.1h0M152.1 671.5h0M154.6 662.6h0M156.9 664.6h0M160.5 667.2h0M152.5 645.0h0M166.5 639.7h0M167.2 653.5h0M152.8 639.2h0M155.3 658.1h0M152.4 657.6h0M154.0 632.0h0M156.9 657.6h0M152.6 668.1h0M166.9 656.1h0M170.3 628.2h0M165.9 647.1h0M165.2 671.3h0M158.0 665.2h0M154.9 654.6h0M171.0 626.5h0M153.3 659.0h0M163.0 672.3h0M152.1 666.7h0M154.7 639.8h0M154.7 652.1h0M154.3 665.6h0M168.0 649.8h0M154.8 659.1h0M169.4 640.8h0M164.6 672.7h0M154.2 631.1h0M162.3 672.6h0M169.3 631.8h0M169.5 669.3h0M158.6 656.5h0M153.0 645.7h0M166.1 661.2h0M155.3 638.1h0M143.0 668.7h0M157.1 662.0h0M166.4 659.5h0M152.2 660.4h0M167.8 660.7h0M151.5 629.0h0M156.6 650.4h0M167.3 668.8h0M157.6 651.2h0M160.7 673.7h0M169.5 645.6h0M156.4 644.3h0M158.1 672.7h0M170.8 625.7h0M166.9 653.5h0M157.0 671.0h0M169.5 652.3h0M167.5 671.1h0M169.6 642.9h0M152.5 655.0h0M143.0 669.3h0M153.9 629.1h0M151.7 627.6h0M153.5 641.2h0M151.7 640.6h0M154.5 627.4h0M166.7 644.5h0M167.8 653.9h0M162.6 673.2h0M167.3 670.3h0M164.9 659.8h0M168.6 649.5h0M152.2 631.1h0M166.4 645.4h0M154.2 661.2h0M170.0 643.6h0M171.0 659.8h0M145.0 673.1h0M152.4 662.5h0M159.6 663.0h0M168.2 624.4h0M143.8 668.9h0M165.7 667.7h0M153.4 624.3h0M168.6 651.9h0M167.8 629.7h0M152.8 622.8h0M159.9 671.1h0M173.0 669.5h0M147.4 671.2h0M156.3 654.4h0M152.0 622.4h0M163.3 673.7h0M156.5 648.9h0M170.6 664.0h0M166.0 644.5h0M152.9 637.3h0M152.3 632.8h0M165.6 663.0h0M155.8 665.4h0M161.1 669.1h0M162.0 670.9h0M167.7 652.4h0M152.2 647.5h0M162.7 674.6h0M167.3 643.8h0M152.1 666.5h0M168.3 671.1h0M155.0 634.0h0M163.7 670.0h0M170.9 672.7h0M156.5 660.4h0M168.7 654.0h0M147.0 672.8h0M154.8 633.3h0M145.2 672.6h0M141.6 669.6h0M151.2 674.3h0M149.7 670.2h0M149.8 672.2h0M154.9 658.1h0M166.5 650.4h0M154.1 648.7h0M153.2 648.5h0M168.5 629.4h0M159.2 671.2h0M169.1 628.2h0M170.0 624.5h0M169.6 665.6h0M147.2 673.7h0M155.5 659.7h0M147.0 673.1h0M153.7 645.2h0M156.7 667.9h0M153.2 653.2h0M169.1 662.3h0M151.0 673.9h0M157.4 668.4h0M152.8 667.4h0M151.6 639.2h0M157.0 670.5h0M156.8 660.0h0M168.3 665.7h0M170.3 639.6h0M154.5 668.7h0M168.1 652.1h0M168.5 628.5h0M156.0 642.6h0M153.0 623.5h0M165.4 674.5h0M154.7 642.1h0M170.9 665.1h0M158.7 668.4h0M156.4 650.7h0M154.3 666.9h0M147.6 669.3h0M166.0 669.9h0M169.4 660.1h0M152.9 635.8h0M151.7 640.2h0M151.4 648.8h0M153.3 621.2h0M166.7 667.0h0M155.1 651.0h0M146.5 669.2h0M167.9 674.2h0M154.8 628.2h0M169.2 645.2h0M157.0 667.2h0M153.4 646.1h0M158.7 665.0h0M165.7 649.5h0M147.8 668.9h0M170.5 648.9h0M154.7 650.3h0M157.0 670.6h0M169.9 647.4h0M151.5 621.8h0M152.9 632.9h0M164.6 669.5h0M153.8 673.5h0M167.4 632.7h0M157.2 651.4h0M151.1 620.7h0M155.7 672.3h0M169.1 659.5h0M157.7 660.5h0M157.2 656.1h0M170.5 625.9h0M166.6 640.3h0M153.8 674.7h0M167.3 640.1h0M167.4 643.4h0M167.2 637.7h0M165.7 652.3h0M156.3 642.3h0M167.0 646.5h0M139.9 670.8h0M153.1 625.2h0M154.7 632.1h0M169.9 669.6h0M166.0 647.0h0M151.2 644.5h0M170.5 650.2h0M154.7 639.6h0M155.6 642.7h0M170.7 663.6h0M163.8 673.8h0M159.2 672.0h0M168.4 642.1h0M157.1 649.9h0M151.5 646.9h0M171.3 670.1h0M152.7 621.2h0M147.2 671.9h0M143.8 670.6h0M140.2 669.2h0M151.5 637.7h0M170.0 637.6h0M155.0 662.4h0M153.1 661.8h0M154.7 639.8h0M156.1 666.2h0M155.3 643.7h0M154.4 658.8h0M157.1 665.8h0M169.0 668.0h0M165.0 663.4h0M170.1 649.3h0M139.1 668.8h0M168.4 634.0h0M169.0 643.4h0M156.4 656.2h0M167.2 667.0h0M142.4 669.3h0M153.1 640.2h0M156.3 657.8h0M165.9 662.3h0M150.2 672.0h0M156.4 646.0h0M168.4 628.9h0M169.1 622.1h0M154.9 643.2h0M143.8 672.6h0M153.7 650.2h0M167.7 656.3h0M166.8 636.2h0M169.5 647.6h0M169.2 651.1h0M169.6 664.7h0M152.7 658.0h0M138.3 670.5h0M168.8 671.1h0M151.5 668.0h0M165.6 657.1h0M152.7 656.2h0M170.3 660.2h0M165.2 664.4h0M154.5 672.8h0M170.5 651.4h0M170.0 668.4h0M158.4 665.1h0M153.0 654.6h0M168.1 655.2h0M158.3 671.9h0M166.9 653.5h0M154.4 661.0h0M151.0 647.8h0M165.8 661.3h0M152.4 668.6h0M167.8 638.3h0M171.0 640.8h0M157.2 667.0h0M165.6 665.1h0M152.2 630.7h0M168.5 629.2h0M153.3 623.0h0M149.7 668.4h0M146.8 668.6h0M160.3 664.9h0M166.5 668.0h0M169.4 665.7h0M157.6 667.9h0M152.6 619.4h0M154.0 624.9h0M164.9 668.9h0M144.8 668.5h0M170.7 663.5h0M151.9 652.3h0M152.3 660.4h0M139.5 670.9h0M167.9 672.4h0M154.3 657.8h0M163.7 674.3h0M160.6 666.7h0M168.1 658.7h0M157.3 653.8h0M162.2 673.0h0M151.2 672.8h0M160.0 671.8h0M156.5 660.9h0M156.2 651.1h0M154.1 655.6h0M167.7 626.2h0M153.1 650.0h0M166.8 635.3h0M165.0 668.1h0M154.1 623.5h0M163.7 667.4h0M154.7 647.6h0M155.1 660.8h0M169.1 635.2h0M172.0 669.2h0M153.4 649.5h0M152.1 672.0h0M169.6 631.9h0M148.3 668.8h0M168.1 639.3h0M170.1 643.2h0M155.6 640.7h0M171.0 650.1h0M145.8 670.0h0M160.4 665.4h0M149.4 674.3h0M166.9 661.1h0M151.6 618.6h0M166.8 671.0h0M169.4 666.9h0M154.8 650.3h0M155.9 656.5h0M146.7 670.0h0M147.9 669.1h0M152.2 666.7h0M153.1 666.9h0M169.2 643.8h0M170.4 641.7h0M153.3 672.7h0M154.4 653.0h0M168.9 644.4h0M149.3 672.6h0M153.2 639.4h0M168.2 643.5h0M171.4 671.6h0M152.6 655.7h0M168.2 640.6h0M153.7 654.2h0M153.8 612.6h0M169.1 599.2h0M168.9 604.7h0M168.5 608.0h0M169.0 611.6h0M168.5 615.0h0M168.5 598.8h0M168.0 604.5h0M152.5 606.0h0M153.0 618.0h0" stroke="#2061bb" stroke-width="2.3" stroke-linecap="round" fill="none"/>
<path d="M151.7,669.5 138.0,669.5 140.0,660.0 144.0,650.0 148.5,640.0 151.7,634.0Z" fill="#18955f"/>
<path d="M148.5 592.5h0M149.0 597.4h0M147.7 591.0h0M142.1 594.0h0M137.4 599.1h0M139.6 598.6h0M138.0 599.7h0M148.4 612.8h0M145.9 608.2h0M136.5 612.9h0M148.7 608.0h0M121.5 612.1h0M148.7 609.4h0M136.4 609.0h0M134.7 606.4h0M147.0 609.1h0M147.7 607.0h0M150.2 612.4h0M141.7 612.7h0M146.6 608.8h0M127.4 611.6h0M133.4 611.7h0M148.7 614.1h0M131.8 614.0h0M149.7 607.6h0M147.1 609.8h0M147.8 600.7h0M122.0 629.9h0M145.1 626.2h0M132.7 627.3h0M151.0 628.7h0M147.3 619.7h0M147.7 623.8h0M142.0 616.4h0M150.4 616.1h0M137.5 629.0h0M121.0 627.2h0M147.7 619.5h0M149.2 625.9h0M145.3 620.3h0M151.1 629.1h0M142.2 628.0h0M139.5 623.1h0M139.1 630.0h0M145.8 627.8h0M144.7 628.9h0M145.3 626.2h0M148.5 626.3h0M150.6 626.3h0M134.3 619.8h0M126.3 623.3h0M137.1 621.6h0M111.7 621.1h0M142.5 626.3h0M150.4 624.3h0M148.3 626.5h0M141.2 627.1h0M128.0 626.7h0M151.3 629.3h0M149.3 624.6h0M119.1 622.9h0M142.3 628.5h0M150.4 629.7h0M150.9 627.4h0M135.6 625.3h0M139.0 628.0h0M149.9 628.0h0M124.6 620.0h0M143.1 625.3h0M148.5 622.6h0M138.3 622.9h0M151.1 616.5h0M114.7 622.1h0M127.6 621.6h0M138.1 619.1h0M150.7 629.9h0M149.6 627.8h0M141.9 625.4h0M141.5 624.4h0M142.2 634.3h0M119.7 639.0h0M143.1 633.0h0M143.6 633.0h0M148.2 644.8h0M150.5 631.2h0M144.0 644.4h0M119.8 644.9h0M148.8 638.5h0M145.4 634.6h0M121.8 630.7h0M145.8 642.7h0M131.3 636.8h0M141.0 634.6h0M151.4 642.6h0M138.7 632.0h0M139.9 631.5h0M132.8 642.7h0M139.8 641.3h0M136.1 638.5h0M122.0 640.7h0M140.5 634.7h0M137.1 639.1h0M126.0 636.8h0M120.1 644.8h0M150.9 637.1h0M147.2 642.9h0M147.0 634.6h0M145.6 634.3h0M136.5 644.0h0M144.8 641.0h0M137.1 639.8h0M139.2 641.7h0M151.0 632.8h0M127.0 644.6h0M146.1 643.4h0M145.3 632.6h0M148.9 639.5h0M137.2 637.5h0M133.6 641.4h0M149.0 640.0h0M141.3 641.3h0M107.8 642.9h0M146.9 644.8h0M132.1 642.1h0M144.2 635.3h0M140.7 640.5h0M140.9 637.1h0M150.9 631.6h0M115.8 639.0h0M148.1 642.3h0M139.6 638.1h0M134.8 631.2h0M133.5 633.8h0M147.5 638.0h0M116.4 633.3h0M118.7 638.1h0M147.1 641.0h0M148.1 639.8h0M150.6 633.7h0M149.3 642.1h0M150.2 638.7h0M151.3 640.0h0M143.9 635.3h0M146.7 632.7h0M142.3 632.2h0M111.3 644.2h0M131.9 637.4h0M129.8 632.0h0M151.1 642.3h0M136.7 640.4h0M133.6 642.1h0M123.4 644.7h0M149.8 636.6h0M144.6 641.9h0M144.7 630.7h0M125.3 643.8h0M147.9 632.8h0M136.5 635.5h0M144.2 640.4h0M142.6 644.2h0M149.0 639.1h0M147.3 637.1h0M142.5 634.0h0M145.3 630.1h0M151.2 640.6h0M132.6 633.7h0M151.2 634.3h0M131.7 637.4h0M150.7 640.0h0M147.9 643.9h0M147.5 639.8h0M147.8 640.7h0M149.5 641.3h0M135.1 644.8h0M149.6 642.5h0M123.3 633.1h0M145.4 638.1h0M134.6 637.5h0M133.4 642.7h0M127.5 632.6h0M148.3 635.3h0M145.6 642.4h0M151.3 642.3h0M149.8 636.4h0M130.8 643.3h0M143.7 631.1h0M146.0 640.1h0M151.2 636.7h0M147.6 636.3h0M144.5 641.8h0M133.2 633.9h0M141.2 643.6h0M145.8 643.3h0M122.5 632.3h0M137.9 642.2h0M140.5 638.0h0M150.9 639.8h0M125.9 644.7h0M143.7 640.7h0M142.8 656.0h0M143.8 654.4h0M136.7 651.8h0M143.5 648.5h0M145.0 657.5h0M145.6 649.8h0M137.8 649.8h0M140.7 645.1h0M150.7 655.7h0M144.9 657.6h0M147.2 649.6h0M122.4 649.9h0M147.4 651.7h0M119.1 657.2h0M118.8 650.1h0M149.4 652.8h0M150.7 652.0h0M122.8 655.6h0M144.4 649.8h0M141.3 655.7h0M147.5 648.3h0M151.2 649.7h0M148.0 657.1h0M129.6 653.0h0M144.4 653.0h0M149.8 649.1h0M150.6 656.9h0M144.5 652.4h0M144.7 655.1h0M126.9 657.1h0M143.1 645.4h0M130.3 652.9h0M149.6 653.1h0M148.6 656.9h0M139.6 649.2h0M144.7 648.2h0M148.5 654.3h0M136.4 653.5h0M134.8 654.2h0M145.9 652.5h0M145.4 653.7h0M150.5 656.2h0M127.9 649.6h0M134.1 650.6h0M125.4 655.9h0M148.3 651.4h0M127.0 653.1h0M127.7 647.3h0M144.7 655.8h0M141.6 650.3h0M140.4 652.1h0M150.1 647.2h0M145.9 656.1h0M123.5 652.7h0M144.6 655.3h0M139.0 654.6h0M140.0 649.4h0M131.9 656.7h0M148.0 647.8h0M147.3 657.1h0M137.8 651.1h0M135.0 646.6h0M129.1 646.9h0M148.7 645.0h0M144.6 655.9h0M144.7 645.5h0M144.3 653.3h0M146.4 652.4h0M139.1 645.1h0M146.1 648.0h0M146.2 657.9h0M132.4 647.3h0M142.5 654.3h0M141.8 657.2h0M143.7 657.4h0M147.2 655.3h0M141.7 649.9h0M142.0 645.1h0M149.6 657.5h0M142.6 657.0h0M136.3 645.8h0M146.4 653.9h0M144.5 648.6h0M146.3 653.0h0M116.1 647.9h0M149.6 653.4h0M149.9 655.9h0M147.2 649.9h0M149.4 651.7h0M147.5 656.0h0M151.1 649.1h0M138.0 652.9h0M147.3 655.9h0M150.8 649.8h0M149.9 650.1h0M143.3 655.8h0M134.2 653.4h0M131.7 652.7h0M150.8 649.3h0M149.3 653.0h0M148.3 656.6h0M128.8 657.3h0M145.7 656.8h0M150.1 656.7h0M146.6 645.5h0M145.3 657.3h0M129.4 654.3h0M140.3 657.6h0M148.3 650.2h0M144.1 648.3h0M101.4 650.0h0M146.0 649.3h0M116.8 652.2h0M146.2 649.8h0M148.3 657.6h0M150.6 655.0h0M143.7 649.8h0M147.1 648.0h0M148.1 647.3h0M142.3 656.5h0M142.1 646.3h0M144.1 657.3h0M140.6 655.3h0M132.9 655.7h0M148.6 652.3h0M144.9 651.1h0M128.1 657.4h0M143.2 650.8h0M144.6 646.7h0M136.8 654.0h0M150.3 647.1h0M107.4 656.5h0M138.1 649.2h0M143.4 656.0h0M121.5 649.6h0M149.6 656.8h0M134.7 656.3h0M134.2 650.4h0M151.4 647.2h0M150.2 647.9h0M151.2 646.5h0M134.0 651.7h0M119.0 653.8h0M133.5 657.6h0M132.5 654.0h0M136.9 656.8h0M150.0 653.6h0M130.3 649.9h0M141.8 656.7h0M143.8 646.2h0M146.6 654.2h0M149.8 651.3h0M146.4 647.3h0M134.5 657.8h0M146.5 655.4h0M127.9 655.8h0M142.1 652.6h0M138.8 656.4h0M148.0 654.6h0M149.2 656.3h0M140.9 649.0h0M140.8 656.7h0M147.5 650.6h0M138.7 657.8h0M151.1 653.9h0M148.5 645.3h0M148.4 657.8h0M151.2 646.2h0M149.2 646.8h0M149.6 648.0h0M147.1 648.6h0M147.5 654.1h0M139.1 656.2h0M144.3 647.7h0M142.0 651.0h0M133.5 650.5h0M147.0 656.5h0M142.6 655.0h0M135.4 653.0h0M125.9 648.9h0M134.4 652.6h0M126.9 655.0h0M149.1 653.0h0M146.4 646.2h0M110.6 649.3h0M151.3 652.3h0M132.9 654.0h0M142.3 649.5h0M130.1 655.2h0M143.0 656.3h0M108.2 654.2h0M137.4 657.1h0M151.3 653.0h0M139.7 656.0h0M143.1 650.3h0M150.9 668.4h0M127.3 660.4h0M144.6 667.7h0M147.9 661.6h0M146.4 662.0h0M145.7 666.4h0M147.7 667.4h0M150.5 667.2h0M145.1 669.4h0M145.8 666.9h0M125.1 667.3h0M151.2 662.8h0M149.9 658.8h0M140.9 661.3h0M143.4 665.1h0M137.7 667.5h0M148.3 664.1h0M143.2 668.9h0M139.4 663.8h0M136.6 667.8h0M131.5 666.2h0M125.7 662.9h0M150.2 660.6h0M130.7 664.0h0M138.1 669.0h0M141.4 660.6h0M149.9 662.2h0M144.7 660.8h0M147.9 660.8h0M148.8 660.2h0M149.5 667.6h0M141.9 661.5h0M150.6 668.9h0M144.9 662.4h0M151.3 663.9h0M141.6 662.6h0M150.4 666.6h0M141.9 665.3h0M145.9 667.4h0M121.8 667.8h0M137.2 664.2h0M149.7 663.6h0M151.0 669.0h0M150.8 666.7h0M142.9 669.4h0M146.3 666.2h0M114.8 663.5h0M146.1 667.3h0M147.1 668.5h0M150.7 667.0h0M142.2 663.4h0M132.2 667.4h0M150.4 659.0h0M131.3 662.4h0M142.6 669.4h0M122.9 659.9h0M147.1 661.9h0M111.7 667.2h0M141.2 659.3h0M145.2 666.9h0M146.6 666.2h0M150.9 661.3h0M140.2 660.5h0M146.6 661.8h0M133.7 667.3h0M139.2 668.3h0M150.2 669.3h0M142.2 663.8h0M144.0 663.6h0M138.6 668.1h0M146.8 661.0h0M113.9 665.3h0M143.0 663.4h0M148.6 661.9h0M140.6 666.3h0M125.4 669.0h0M150.2 666.8h0M143.3 662.9h0M147.9 666.3h0M144.4 661.8h0M149.6 664.9h0M128.0 666.4h0M151.3 665.1h0M134.6 667.7h0M148.7 664.1h0M140.7 666.4h0M149.3 669.1h0M130.1 660.8h0M140.8 667.2h0M146.8 662.1h0M146.8 668.9h0M150.0 665.2h0M145.9 663.1h0M140.3 661.3h0M142.8 661.1h0M130.8 658.5h0M150.5 660.4h0M138.8 663.6h0M145.2 658.1h0M127.7 668.6h0M142.4 660.9h0M148.0 668.8h0M146.8 660.7h0M147.7 660.5h0M147.0 661.4h0M139.9 668.9h0M150.2 669.0h0M142.3 658.5h0M137.0 669.5h0M133.9 667.1h0M138.5 668.0h0M149.5 663.4h0M151.0 665.6h0M144.6 663.0h0M146.1 662.8h0M119.3 668.1h0M148.2 662.9h0M132.9 667.4h0M131.1 667.2h0M120.7 659.2h0M131.4 659.6h0M130.9 662.0h0M129.2 668.8h0M145.9 668.5h0M123.6 668.5h0M151.0 662.4h0M143.7 663.2h0M149.5 666.3h0M149.4 661.6h0M141.4 668.8h0M149.5 668.0h0M145.1 659.2h0M138.3 659.1h0M117.4 658.3h0M151.1 660.9h0M135.7 660.3h0M131.2 664.5h0M144.0 666.3h0M145.7 658.4h0M126.7 665.0h0M144.1 667.7h0M121.9 668.9h0M124.8 663.6h0M145.5 660.4h0M145.7 667.7h0M137.8 659.4h0M143.9 663.7h0M148.0 658.5h0M127.5 667.2h0M148.7 659.3h0M138.8 669.2h0M140.9 666.3h0M147.4 659.4h0M137.8 658.9h0M143.6 668.6h0M147.0 665.9h0M146.0 662.3h0M147.0 666.8h0M149.3 661.3h0M138.5 662.5h0M147.0 669.4h0M149.8 660.8h0M150.9 667.2h0M148.8 663.8h0M151.0 664.9h0M144.8 661.7h0M149.2 663.2h0M135.9 668.7h0M135.2 668.7h0M128.8 663.1h0M140.0 666.1h0M124.2 662.0h0M151.3 660.7h0M148.7 660.8h0M149.2 659.9h0M151.2 669.0h0M134.9 668.6h0M150.9 661.7h0M144.3 668.6h0M145.7 661.0h0M142.1 667.3h0M114.6 669.3h0M133.8 666.1h0M135.2 659.9h0M129.4 659.9h0M143.8 660.2h0M124.0 662.3h0M140.8 659.3h0M146.8 660.8h0M144.7 665.8h0M150.4 665.7h0M148.1 663.7h0M136.0 661.5h0M147.6 668.2h0M136.8 659.5h0M143.7 666.5h0M137.7 666.8h0M137.7 665.2h0M130.6 661.5h0M131.7 667.3h0M150.5 668.0h0M144.3 668.8h0M133.2 659.2h0M145.2 658.4h0M138.0 665.7h0M143.9 658.7h0M148.5 662.1h0M150.0 664.2h0M150.6 663.7h0M140.0 662.6h0M119.5 669.4h0M123.9 666.4h0M146.6 667.9h0M151.1 661.2h0M147.2 662.5h0M139.1 663.7h0M145.1 667.5h0M149.1 661.1h0M130.5 668.0h0M128.4 665.9h0M141.1 667.0h0M115.9 662.0h0M150.8 663.2h0M144.8 658.7h0M125.1 668.7h0M134.7 661.7h0M148.5 665.5h0M138.1 663.4h0M146.3 663.0h0M137.1 662.5h0M150.3 658.3h0M127.5 659.6h0M140.2 666.2h0M134.8 658.1h0M148.5 661.0h0M147.8 668.7h0M151.2 658.7h0M134.2 667.9h0M140.8 667.9h0M145.0 665.9h0M141.4 668.2h0M109.1 658.1h0M147.1 584.6h0M143.2 591.2h0M146.1 590.6h0M147.2 594.3h0M134.6 596.0h0M126.6 599.2h0M143.5 599.2h0M145.7 598.3h0M147.5 598.0h0M145.5 601.1h0M136.6 603.4h0M146.1 603.9h0M101.1 650.9h0M104.0 634.6h0M107.7 634.0h0M120.2 611.7h0M127.6 609.9h0M136.7 603.6h0M145.9 604.0h0" stroke="#18955f" stroke-width="2.3" stroke-linecap="round" fill="none"/>
<path d="M170.4,669.5 184.0,669.5 185.0,660.0 181.0,648.0 175.5,636.0 170.4,630.0Z" fill="#e91d38"/>
<path d="M176.3 605.9h0M200.7 605.7h0M181.8 604.9h0M180.0 608.7h0M174.7 604.5h0M171.5 603.9h0M177.6 603.1h0M175.0 606.9h0M172.1 601.6h0M189.2 605.2h0M213.6 613.1h0M175.7 604.4h0M198.8 606.7h0M175.2 604.9h0M181.9 606.7h0M200.8 609.2h0M180.8 606.0h0M174.7 610.5h0M176.9 601.3h0M185.2 611.9h0M172.3 602.3h0M179.2 609.7h0M201.8 612.4h0M178.7 609.7h0M175.0 611.9h0M187.7 615.0h0M193.7 612.5h0M175.5 608.9h0M184.1 611.2h0M171.5 605.0h0M176.7 608.7h0M185.1 604.1h0M174.6 611.3h0M180.3 613.0h0M177.2 611.0h0M171.4 610.2h0M173.0 611.3h0M209.4 604.8h0M178.7 614.4h0M173.9 601.8h0M174.1 629.0h0M179.8 624.3h0M175.5 627.7h0M172.1 627.0h0M201.5 627.8h0M180.9 629.1h0M198.4 627.0h0M203.1 619.6h0M197.6 615.1h0M181.1 625.7h0M190.2 620.3h0M201.3 622.5h0M198.2 617.7h0M183.1 621.9h0M174.4 616.5h0M192.6 617.6h0M176.9 616.1h0M175.7 623.1h0M177.2 621.4h0M174.8 615.4h0M195.6 621.3h0M175.8 628.0h0M205.2 615.1h0M177.5 620.7h0M175.9 620.0h0M171.7 622.1h0M180.7 616.7h0M194.7 621.0h0M173.2 623.0h0M176.2 625.2h0M172.5 624.9h0M178.4 620.0h0M171.8 625.5h0M180.5 625.4h0M173.4 620.9h0M175.6 624.4h0M187.9 624.4h0M171.8 622.0h0M192.8 625.3h0M178.8 622.4h0M178.9 627.7h0M180.1 622.1h0M175.8 625.6h0M173.9 616.8h0M177.7 617.9h0M175.6 628.6h0M171.5 622.1h0M173.2 616.7h0M207.3 617.3h0M173.2 617.2h0M177.9 619.7h0M180.1 629.9h0M189.5 621.1h0M196.5 625.4h0M174.0 623.7h0M184.2 627.9h0M188.9 616.1h0M179.5 623.3h0M175.9 621.8h0M184.1 629.0h0M171.4 617.7h0M171.2 617.2h0M183.9 621.2h0M177.0 616.5h0M184.3 627.0h0M202.8 640.0h0M182.9 633.4h0M193.9 643.7h0M192.9 634.0h0M170.9 642.4h0M172.8 641.5h0M204.8 634.7h0M176.5 640.7h0M189.4 638.2h0M200.4 639.7h0M172.9 642.0h0M188.0 634.1h0M177.9 641.1h0M171.4 641.0h0M200.7 640.3h0M198.1 634.9h0M176.7 634.9h0M181.1 631.9h0M175.3 632.2h0M185.1 632.3h0M180.0 635.1h0M181.2 632.8h0M180.7 633.6h0M182.5 644.9h0M175.2 634.5h0M196.3 642.7h0M175.8 636.2h0M197.8 638.6h0M174.8 642.1h0M172.8 641.0h0M171.0 642.0h0M179.0 634.9h0M173.5 630.3h0M177.4 640.9h0M183.2 635.6h0M180.8 632.0h0M189.4 634.3h0M179.5 641.1h0M171.6 636.4h0M187.8 636.8h0M183.8 641.8h0M174.0 642.2h0M185.4 644.9h0M176.6 633.5h0M176.1 636.4h0M171.2 641.6h0M174.9 644.8h0M182.5 644.3h0M174.9 644.5h0M183.0 643.1h0M195.2 631.1h0M183.2 630.6h0M191.7 630.3h0M211.6 632.8h0M171.7 637.9h0M180.2 637.9h0M184.6 637.2h0M175.0 635.2h0M195.9 643.7h0M179.0 637.8h0M177.3 634.2h0M182.4 644.5h0M178.3 642.3h0M172.0 631.0h0M179.1 638.5h0M194.7 633.5h0M178.8 633.1h0M175.0 639.2h0M178.1 630.9h0M181.5 638.9h0M188.7 641.8h0M185.2 641.1h0M172.7 632.8h0M201.3 639.6h0M180.4 630.8h0M174.5 639.7h0M197.0 634.8h0M186.2 632.8h0M174.1 634.2h0M175.9 644.3h0M174.3 639.2h0M182.2 637.6h0M188.1 636.7h0M183.6 638.3h0M194.5 635.6h0M183.4 632.0h0M177.5 635.2h0M179.2 636.5h0M187.5 636.3h0M198.1 633.7h0M191.3 641.9h0M173.2 637.3h0M178.7 641.0h0M175.6 643.0h0M177.0 638.1h0M181.2 643.6h0M178.4 644.6h0M179.0 643.8h0M172.0 640.5h0M205.6 643.7h0M196.0 633.2h0M171.5 642.9h0M172.9 640.2h0M175.9 637.6h0M176.4 636.5h0M173.1 637.3h0M171.0 633.5h0M192.9 635.5h0M207.3 636.6h0M176.1 631.0h0M187.7 637.4h0M183.8 644.3h0M184.5 641.9h0M187.4 636.7h0M180.2 631.6h0M187.5 632.1h0M187.0 647.6h0M182.7 653.6h0M180.3 652.8h0M177.3 647.3h0M173.6 651.2h0M173.0 650.5h0M193.0 650.4h0M183.1 654.8h0M176.9 649.2h0M174.1 653.7h0M174.8 652.5h0M188.2 647.5h0M176.8 651.3h0M176.9 649.2h0M175.5 645.2h0M182.7 650.4h0M185.2 654.2h0M182.5 646.4h0M189.8 653.0h0M173.0 648.1h0M172.4 654.9h0M171.4 653.1h0M187.9 653.0h0M170.9 649.2h0M178.3 646.9h0M183.8 650.2h0M194.0 646.5h0M197.0 648.4h0M190.8 651.2h0M172.6 654.6h0M178.9 649.4h0M182.9 646.3h0M176.0 645.1h0M177.9 653.0h0M179.0 651.4h0M193.1 646.9h0M190.1 654.4h0M177.0 645.4h0M185.7 648.8h0M171.5 645.1h0M182.2 654.1h0M177.9 649.8h0M171.1 645.2h0M171.4 653.9h0M179.1 651.3h0M171.9 648.9h0M178.2 648.1h0M194.1 647.3h0M181.7 648.6h0M180.3 648.3h0M171.5 651.3h0M171.7 653.1h0M182.5 647.6h0M176.4 650.6h0M184.9 654.1h0M199.4 650.1h0M177.0 645.9h0M180.4 653.6h0M183.1 654.9h0M198.7 649.3h0M176.1 652.7h0M186.6 647.2h0M171.5 651.0h0M181.8 652.4h0M173.7 649.0h0M176.5 648.1h0M177.8 648.2h0M199.0 652.8h0M178.4 650.6h0M186.3 651.8h0M184.8 654.6h0M180.8 653.3h0M177.2 648.9h0M172.1 646.0h0M180.2 654.9h0M178.1 645.2h0M178.3 651.5h0M191.0 646.2h0M173.9 654.2h0M171.1 652.8h0M187.3 654.0h0M180.7 646.7h0M171.3 654.2h0M180.4 647.7h0M191.3 654.7h0M178.6 649.2h0M182.4 648.6h0M176.9 648.1h0M181.6 646.9h0M182.9 652.4h0M172.2 647.3h0M184.2 653.0h0M180.9 650.1h0M181.7 652.7h0M181.8 645.8h0M179.3 653.8h0M175.3 648.3h0M178.3 651.8h0M183.1 650.3h0M171.8 649.4h0M190.4 645.7h0M174.0 652.9h0M193.2 654.2h0M179.5 653.3h0M188.3 651.6h0M183.3 654.3h0M172.6 652.4h0M174.0 653.4h0M174.4 650.5h0M190.9 648.7h0M175.3 654.4h0M181.3 648.2h0M177.9 648.8h0M177.6 651.6h0M173.6 649.9h0M175.3 651.3h0M177.1 649.4h0M190.8 653.7h0M174.9 652.3h0M182.4 652.2h0M173.1 653.6h0M182.1 654.9h0M193.3 647.8h0M171.9 652.5h0M188.6 652.7h0M174.2 646.4h0M172.4 651.2h0M187.2 648.9h0M173.6 653.0h0M177.6 650.7h0M171.5 655.1h0M176.2 667.9h0M187.4 663.9h0M195.5 655.6h0M193.2 656.2h0M172.6 655.7h0M171.4 662.1h0M172.5 669.0h0M175.1 656.7h0M178.8 661.5h0M188.9 666.5h0M176.0 660.1h0M192.6 661.0h0M173.9 667.3h0M175.0 667.7h0M173.4 669.2h0M170.9 661.1h0M176.4 657.2h0M178.1 664.4h0M172.0 664.6h0M178.2 668.9h0M181.5 656.2h0M190.1 661.0h0M196.3 656.4h0M176.2 666.9h0M174.1 661.8h0M170.7 662.6h0M172.0 665.3h0M187.2 655.9h0M191.3 666.3h0M179.0 668.4h0M173.4 655.1h0M173.6 668.6h0M171.4 665.8h0M177.3 659.4h0M177.9 660.7h0M180.1 658.5h0M173.2 656.1h0M179.4 657.9h0M182.5 659.4h0M171.2 664.2h0M172.0 656.2h0M187.2 660.4h0M178.5 667.4h0M173.4 661.5h0M181.8 660.2h0M174.2 659.8h0M179.6 658.3h0M171.0 669.0h0M170.8 661.6h0M177.2 662.5h0M172.1 664.1h0M176.5 663.5h0M177.0 657.7h0M173.5 668.8h0M191.7 662.0h0M171.3 656.8h0M173.0 659.5h0M173.5 656.9h0M172.6 666.0h0M171.8 657.8h0M177.5 658.1h0M171.2 667.8h0M178.6 665.2h0M175.4 666.3h0M173.4 656.9h0M174.0 662.0h0M173.6 663.4h0M179.1 669.2h0M170.7 668.9h0M171.7 658.6h0M172.6 668.2h0M172.1 660.6h0M190.5 661.6h0M184.6 663.2h0M186.4 662.7h0M172.8 656.3h0M178.9 662.4h0M175.1 660.1h0M176.9 656.5h0M170.9 665.6h0M175.6 663.3h0M174.9 655.7h0M173.8 658.7h0M177.5 657.4h0M188.6 659.5h0M170.9 655.8h0M180.5 655.7h0M175.8 655.0h0M179.8 669.2h0M178.9 665.3h0M183.4 668.0h0M180.1 666.1h0M173.9 657.5h0M190.9 667.9h0M173.3 664.5h0M179.7 661.3h0M175.5 661.3h0M175.6 658.6h0M178.5 659.7h0M187.7 658.0h0M183.4 668.6h0M188.0 667.9h0M171.2 666.3h0M176.5 657.9h0M176.4 661.9h0M183.4 661.6h0M178.6 660.0h0M173.3 662.5h0M174.3 661.4h0M182.5 661.3h0M182.9 663.4h0M172.8 665.8h0M187.1 668.0h0M183.4 663.6h0M192.9 655.5h0M189.4 656.4h0M176.8 657.1h0M173.9 662.3h0M182.3 661.6h0M188.1 656.7h0M181.8 664.1h0M186.0 662.5h0M185.6 665.1h0M172.3 662.4h0M177.3 657.4h0M179.5 668.3h0M181.7 667.4h0M188.9 667.8h0M180.7 664.8h0M176.6 665.8h0M190.8 655.4h0M177.6 667.8h0M190.2 658.2h0M174.8 655.4h0M186.1 656.0h0M174.7 655.8h0M189.8 657.5h0M176.7 669.2h0M179.5 663.6h0M177.2 659.4h0M180.9 663.0h0M176.3 660.9h0M181.9 662.6h0M176.7 664.7h0M178.4 668.9h0M177.8 662.7h0M184.3 668.8h0M184.8 657.3h0M188.2 662.5h0M186.5 655.4h0M171.2 665.2h0M179.2 657.6h0M181.6 665.5h0M191.4 664.3h0M173.8 658.3h0M174.8 666.1h0M186.5 667.1h0M174.7 662.2h0M170.9 658.2h0M183.3 663.5h0M192.7 660.3h0M176.6 665.8h0M172.2 656.2h0M171.6 667.8h0M192.1 662.4h0M178.7 655.9h0M180.6 655.8h0M185.1 658.9h0M180.6 657.4h0M192.9 667.1h0M185.7 665.4h0M178.0 662.2h0M176.7 663.4h0M175.4 667.5h0M171.8 660.3h0M171.1 663.2h0M181.3 659.4h0M195.0 661.4h0M176.3 664.0h0M181.5 661.2h0M172.9 667.4h0M172.4 669.2h0M188.9 667.3h0M171.3 669.3h0M171.8 669.4h0M176.2 667.9h0M175.0 661.2h0M182.6 665.5h0M181.8 658.6h0M189.8 659.2h0M174.9 658.0h0M172.9 668.7h0M182.0 665.7h0M182.3 660.0h0M172.7 665.2h0M171.3 655.8h0M171.1 658.2h0M178.6 665.4h0M180.7 668.5h0M176.6 657.5h0M175.0 659.5h0M184.9 658.2h0M192.3 658.3h0M173.8 662.4h0M185.7 656.8h0M171.2 665.1h0M179.6 661.5h0M173.3 669.0h0M180.0 655.9h0M171.0 660.0h0M175.2 655.5h0M180.1 661.0h0M171.0 655.7h0M189.8 665.9h0M180.3 661.5h0M187.5 656.1h0M176.0 662.5h0M178.7 659.0h0M177.8 661.8h0M174.3 657.8h0M170.7 655.1h0M182.0 662.3h0M173.7 663.3h0M188.6 659.2h0M190.3 667.1h0M183.9 655.2h0M174.2 668.3h0M172.0 656.1h0M190.9 661.6h0M174.9 657.1h0M177.0 659.3h0M177.7 666.4h0M192.0 658.2h0M189.5 656.1h0M173.6 662.8h0M172.6 665.0h0M171.3 659.8h0M173.0 667.9h0M181.1 668.5h0M175.4 661.8h0M177.6 655.9h0M182.8 663.3h0M172.5 669.4h0M186.3 662.0h0M189.1 663.3h0M183.1 666.6h0M175.9 660.3h0M176.5 659.3h0M172.3 666.8h0M172.1 664.6h0M176.3 668.7h0M188.5 667.8h0M191.8 658.1h0M235.2 406.1h0M230.4 518.7h0M190.1 531.4h0M191.8 530.0h0M212.8 539.0h0M212.3 550.0h0M214.5 560.5h0M213.3 566.7h0M210.4 571.5h0M196.1 566.7h0M177.7 566.5h0M179.6 566.5h0M184.8 567.7h0M176.8 572.7h0M189.9 571.8h0M201.0 574.6h0M184.0 576.5h0M185.1 577.7h0M183.5 579.4h0M185.6 581.0h0M171.2 580.0h0M178.7 580.0h0M179.6 581.0h0M179.6 584.2h0M182.5 586.3h0M199.2 586.1h0M181.7 590.2h0M201.0 591.6h0M203.0 593.0h0M173.6 595.2h0M175.1 595.6h0M183.0 595.1h0M188.2 595.1h0M195.6 594.4h0M180.5 600.9h0M187.2 602.5h0M196.6 602.3h0M198.5 600.7h0M203.7 604.4h0M203.7 606.4h0M192.2 605.7h0M199.2 606.1h0M220.0 605.9h0M212.0 609.5h0M215.2 609.2h0" stroke="#e91d38" stroke-width="2.3" stroke-linecap="round" fill="none"/>
<path d="M152.1 392.5V687M170.3 392.5V687" stroke="#2c2c2c" stroke-width="1.2" stroke-dasharray="3.9 2.9 1 3" stroke-dashoffset="3" fill="none"/>
<path d="M40.5 669.8H281.5" stroke="#2c2c2c" stroke-width="1.2" stroke-dasharray="3.3 1.85 1 2.85" stroke-dashoffset="5.8" fill="none"/>
<rect x="40.5" y="392.5" width="241.0" height="294.5" fill="none" stroke="#767676" stroke-width="1.15"/>
<path d="M51.5 687v3.9M88.1 687v3.9M124.6 687v3.9M161.2 687v3.9M197.8 687v3.9M234.3 687v3.9M270.9 687v3.9M40.5 673.5h-3.9M40.5 586.8h-3.9M40.5 500.0h-3.9M40.5 413.3h-3.9" stroke="#555" stroke-width="1.15" fill="none"/>
<g font-size="9.8" fill="#161616">
<text x="48.9" y="703.6" text-anchor="middle">−12</text>
<text x="85.5" y="703.6" text-anchor="middle">−8</text>
<text x="122.0" y="703.6" text-anchor="middle">−4</text>
<text x="161.2" y="703.6" text-anchor="middle">0</text>
<text x="197.8" y="703.6" text-anchor="middle">4</text>
<text x="234.3" y="703.6" text-anchor="middle">8</text>
<text x="270.9" y="703.6" text-anchor="middle">12</text>
<text x="32.8" y="677.0" text-anchor="end">0</text>
<text x="32.8" y="590.3" text-anchor="end">40</text>
<text x="32.8" y="503.5" text-anchor="end">80</text>
<text x="32.8" y="416.8" text-anchor="end">120</text>
<text x="162.1" y="383.8" text-anchor="middle">MSI-HvsMSS</text>
<text x="158" y="715.7" text-anchor="middle">log<tspan font-size="6" dy="2.2">2</tspan><tspan dy="-2.2"> (FC)</tspan></text>
<text x="157.9" y="733.4" text-anchor="middle">mRNA</text>
<text transform="translate(10.2 543.5) rotate(-90)" text-anchor="middle">−log<tspan font-size="6" dy="2.2">10</tspan><tspan dy="-2.2"> (padj)</tspan></text>
</g>
<text transform="matrix(0.95 0 0 1 5.6 388.3)" font-size="15.2" fill="#111" stroke="#111" stroke-width="0.25">C</text>
<g font-size="9.8" fill="#161616"><text transform="matrix(0.94 0 0 1 290 528.9)">DEG (2121)</text>
<rect x="290" y="533.4" width="10.5" height="21.4" fill="#ececec"/>
<rect x="293.95" y="537.3" width="2.3" height="2.3" rx="0.9" fill="#e8173c"/><rect x="293.95" y="548.4" width="2.3" height="2.3" rx="0.9" fill="#178f5e"/>
<text x="302.8" y="542.9">Up: 1011</text><text x="302.8" y="553.9">Down: 1110</text></g>
</svg></body></html>
